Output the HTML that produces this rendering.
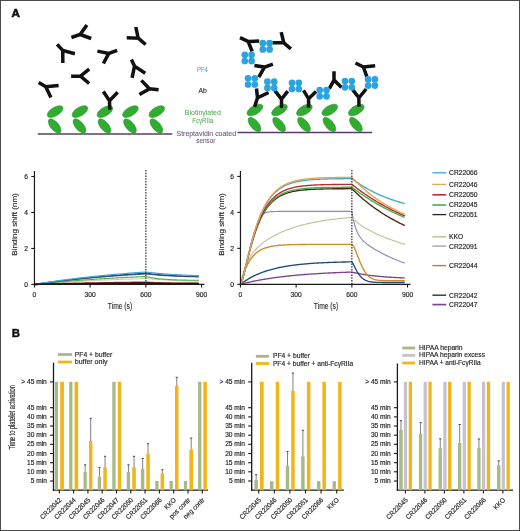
<!DOCTYPE html>
<html><head><meta charset="utf-8"><title>Figure</title>
<style>html,body{margin:0;padding:0;background:#fff;width:520px;height:531px;overflow:hidden}svg{display:block;will-change:transform}</style>
</head><body><svg width="520" height="531" viewBox="0 0 520 531" font-family="'Liberation Sans', sans-serif"><line x1="37.8" y1="134.0" x2="172.3" y2="134.0" stroke="#573d6b" stroke-width="1.5"/>
<line x1="237.5" y1="132.4" x2="372.1" y2="132.4" stroke="#573d6b" stroke-width="1.5"/>
<ellipse cx="55.1" cy="111.6" rx="8.8" ry="4.3" transform="rotate(-31 55.1 111.6)" fill="#30ad31" stroke="#2a8c2c" stroke-width="0.5"/>
<ellipse cx="54.7" cy="126.0" rx="8.7" ry="4.1" transform="rotate(50 54.7 126.0)" fill="#30ad31" stroke="#2a8c2c" stroke-width="0.5"/>
<ellipse cx="79.9" cy="111.6" rx="8.8" ry="4.3" transform="rotate(-31 79.9 111.6)" fill="#30ad31" stroke="#2a8c2c" stroke-width="0.5"/>
<ellipse cx="79.5" cy="126.0" rx="8.7" ry="4.1" transform="rotate(50 79.5 126.0)" fill="#30ad31" stroke="#2a8c2c" stroke-width="0.5"/>
<ellipse cx="104.9" cy="111.6" rx="8.8" ry="4.3" transform="rotate(-31 104.9 111.6)" fill="#30ad31" stroke="#2a8c2c" stroke-width="0.5"/>
<ellipse cx="104.5" cy="126.0" rx="8.7" ry="4.1" transform="rotate(50 104.5 126.0)" fill="#30ad31" stroke="#2a8c2c" stroke-width="0.5"/>
<ellipse cx="130.4" cy="111.6" rx="8.8" ry="4.3" transform="rotate(-31 130.4 111.6)" fill="#30ad31" stroke="#2a8c2c" stroke-width="0.5"/>
<ellipse cx="130.0" cy="126.0" rx="8.7" ry="4.1" transform="rotate(50 130.0 126.0)" fill="#30ad31" stroke="#2a8c2c" stroke-width="0.5"/>
<ellipse cx="156.8" cy="111.6" rx="8.8" ry="4.3" transform="rotate(-31 156.8 111.6)" fill="#30ad31" stroke="#2a8c2c" stroke-width="0.5"/>
<ellipse cx="156.4" cy="126.0" rx="8.7" ry="4.1" transform="rotate(50 156.4 126.0)" fill="#30ad31" stroke="#2a8c2c" stroke-width="0.5"/>
<ellipse cx="254.9" cy="110.0" rx="8.8" ry="4.3" transform="rotate(-31 254.9 110.0)" fill="#30ad31" stroke="#2a8c2c" stroke-width="0.5"/>
<ellipse cx="254.5" cy="124.5" rx="8.7" ry="4.1" transform="rotate(50 254.5 124.5)" fill="#30ad31" stroke="#2a8c2c" stroke-width="0.5"/>
<ellipse cx="279.5" cy="110.0" rx="8.8" ry="4.3" transform="rotate(-31 279.5 110.0)" fill="#30ad31" stroke="#2a8c2c" stroke-width="0.5"/>
<ellipse cx="279.1" cy="124.5" rx="8.7" ry="4.1" transform="rotate(50 279.1 124.5)" fill="#30ad31" stroke="#2a8c2c" stroke-width="0.5"/>
<ellipse cx="304.4" cy="110.0" rx="8.8" ry="4.3" transform="rotate(-31 304.4 110.0)" fill="#30ad31" stroke="#2a8c2c" stroke-width="0.5"/>
<ellipse cx="304.0" cy="124.5" rx="8.7" ry="4.1" transform="rotate(50 304.0 124.5)" fill="#30ad31" stroke="#2a8c2c" stroke-width="0.5"/>
<ellipse cx="329.8" cy="110.0" rx="8.8" ry="4.3" transform="rotate(-31 329.8 110.0)" fill="#30ad31" stroke="#2a8c2c" stroke-width="0.5"/>
<ellipse cx="329.4" cy="124.5" rx="8.7" ry="4.1" transform="rotate(50 329.4 124.5)" fill="#30ad31" stroke="#2a8c2c" stroke-width="0.5"/>
<ellipse cx="356.3" cy="110.0" rx="8.8" ry="4.3" transform="rotate(-31 356.3 110.0)" fill="#30ad31" stroke="#2a8c2c" stroke-width="0.5"/>
<ellipse cx="355.9" cy="124.5" rx="8.7" ry="4.1" transform="rotate(50 355.9 124.5)" fill="#30ad31" stroke="#2a8c2c" stroke-width="0.5"/>
<path d="M86.9,25 L80.1,34.5 L71.4,37.5 M80.1,34.5 L91.2,38.5" stroke="#111" stroke-width="3.5" fill="none" stroke-linecap="butt" stroke-linejoin="miter"/>
<path d="M135.8,27 L138.2,38.2 L126.7,37.8 M138.2,38.2 L145.6,44.5" stroke="#111" stroke-width="3.5" fill="none" stroke-linecap="butt" stroke-linejoin="miter"/>
<path d="M57.1,44.4 L62.8,50.4 L74.9,53.8 M62.8,50.4 L62.8,62.9" stroke="#111" stroke-width="3.5" fill="none" stroke-linecap="butt" stroke-linejoin="miter"/>
<path d="M97.4,51.1 L108.8,53.4 L117.2,50.4 M108.8,53.4 L103.4,63.5" stroke="#111" stroke-width="3.5" fill="none" stroke-linecap="butt" stroke-linejoin="miter"/>
<path d="M71.1,76.3 L80.5,76.1 L89.2,69.1 M80.5,76.1 L89.2,83.5" stroke="#111" stroke-width="3.5" fill="none" stroke-linecap="butt" stroke-linejoin="miter"/>
<path d="M131.4,59.4 L134.5,66.1 L145.2,73.2 M134.5,66.1 L132.1,77.9" stroke="#111" stroke-width="3.5" fill="none" stroke-linecap="butt" stroke-linejoin="miter"/>
<path d="M38.7,82.4 L45.8,86.8 L58.6,85.4 M45.8,86.8 L50.9,97.5" stroke="#111" stroke-width="3.5" fill="none" stroke-linecap="butt" stroke-linejoin="miter"/>
<path d="M141.4,80.4 L149.5,88.8 L139.4,94.5 M149.5,88.8 L158.6,89.8" stroke="#111" stroke-width="3.5" fill="none" stroke-linecap="butt" stroke-linejoin="miter"/>
<path d="M103.3,91.5 L109.5,100.7 L117.7,92.3 M109.5,100.7 L109.8,109.8" stroke="#111" stroke-width="3.5" fill="none" stroke-linecap="butt" stroke-linejoin="miter"/>
<path d="M240,37.7 L248.1,41.4 L259.2,41.1 M248.1,41.4 L252.2,51.5" stroke="#111" stroke-width="3.5" fill="none" stroke-linecap="butt" stroke-linejoin="miter"/>
<path d="M281.2,32.1 L283.8,42.8 L272.4,42.8 M283.8,42.8 L290.9,48.9" stroke="#111" stroke-width="3.5" fill="none" stroke-linecap="butt" stroke-linejoin="miter"/>
<path d="M254.4,65.4 L264.5,67.1 L272.9,64.1 M264.5,67.1 L258.8,77.2" stroke="#111" stroke-width="3.5" fill="none" stroke-linecap="butt" stroke-linejoin="miter"/>
<path d="M334,71.3 L334,80 L329.4,88.6 M334,80 L341.5,87.5" stroke="#111" stroke-width="3.5" fill="none" stroke-linecap="butt" stroke-linejoin="miter"/>
<path d="M355.5,63 L363.4,67 L375.2,65.8 M363.4,67 L366.8,76.6" stroke="#111" stroke-width="3.5" fill="none" stroke-linecap="butt" stroke-linejoin="miter"/>
<path d="M256.5,88.5 L257.5,97.8 L268.6,92.5 M257.5,97.8 L254.6,106.9" stroke="#111" stroke-width="3.5" fill="none" stroke-linecap="butt" stroke-linejoin="miter"/>
<path d="M274.8,90.6 L281.5,99.2 L287.8,91.1 M281.5,99.2 L281.5,107.9" stroke="#111" stroke-width="3.5" fill="none" stroke-linecap="butt" stroke-linejoin="miter"/>
<path d="M303.5,90.4 L308.6,98.8 L316.1,91.5 M308.6,98.8 L308.6,107.7" stroke="#111" stroke-width="3.5" fill="none" stroke-linecap="butt" stroke-linejoin="miter"/>
<path d="M352.6,89.6 L358.9,97.8 L366.2,89 M358.9,97.8 L358.9,106.8" stroke="#111" stroke-width="3.5" fill="none" stroke-linecap="butt" stroke-linejoin="miter"/>
<circle cx="262.80" cy="43.20" r="3.35" fill="#2ba3de"/>
<circle cx="262.80" cy="49.40" r="3.35" fill="#2ba3de"/>
<circle cx="269.60" cy="43.20" r="3.35" fill="#2ba3de"/>
<circle cx="269.60" cy="49.40" r="3.35" fill="#2ba3de"/>
<circle cx="244.80" cy="54.80" r="3.35" fill="#2ba3de"/>
<circle cx="244.80" cy="61.00" r="3.35" fill="#2ba3de"/>
<circle cx="251.60" cy="54.80" r="3.35" fill="#2ba3de"/>
<circle cx="251.60" cy="61.00" r="3.35" fill="#2ba3de"/>
<circle cx="248.00" cy="78.30" r="3.35" fill="#2ba3de"/>
<circle cx="248.00" cy="84.50" r="3.35" fill="#2ba3de"/>
<circle cx="254.80" cy="78.30" r="3.35" fill="#2ba3de"/>
<circle cx="254.80" cy="84.50" r="3.35" fill="#2ba3de"/>
<circle cx="267.40" cy="81.70" r="3.35" fill="#2ba3de"/>
<circle cx="267.40" cy="87.90" r="3.35" fill="#2ba3de"/>
<circle cx="274.20" cy="81.70" r="3.35" fill="#2ba3de"/>
<circle cx="274.20" cy="87.90" r="3.35" fill="#2ba3de"/>
<circle cx="292.00" cy="82.80" r="3.35" fill="#2ba3de"/>
<circle cx="292.00" cy="89.00" r="3.35" fill="#2ba3de"/>
<circle cx="298.80" cy="82.80" r="3.35" fill="#2ba3de"/>
<circle cx="298.80" cy="89.00" r="3.35" fill="#2ba3de"/>
<circle cx="319.70" cy="90.10" r="3.35" fill="#2ba3de"/>
<circle cx="319.70" cy="96.30" r="3.35" fill="#2ba3de"/>
<circle cx="326.50" cy="90.10" r="3.35" fill="#2ba3de"/>
<circle cx="326.50" cy="96.30" r="3.35" fill="#2ba3de"/>
<circle cx="345.00" cy="81.10" r="3.35" fill="#2ba3de"/>
<circle cx="345.00" cy="87.30" r="3.35" fill="#2ba3de"/>
<circle cx="351.80" cy="81.10" r="3.35" fill="#2ba3de"/>
<circle cx="351.80" cy="87.30" r="3.35" fill="#2ba3de"/>
<circle cx="368.10" cy="79.40" r="3.35" fill="#2ba3de"/>
<circle cx="368.10" cy="85.60" r="3.35" fill="#2ba3de"/>
<circle cx="374.90" cy="79.40" r="3.35" fill="#2ba3de"/>
<circle cx="374.90" cy="85.60" r="3.35" fill="#2ba3de"/>
<text x="11.5" y="16.9" font-size="11.6" fill="#111" text-anchor="start" font-weight="bold" stroke="#111" stroke-width="0.6">A</text>
<text x="11.8" y="337.2" font-size="11.4" fill="#111" text-anchor="start" font-weight="bold" stroke="#111" stroke-width="0.45">B</text>
<text x="196.9" y="72.0" font-size="6.9" fill="#3ea6dc" text-anchor="start" font-weight="normal" textLength="11.0" lengthAdjust="spacingAndGlyphs" stroke="#3ea6dc" stroke-width="0.05">PF4</text>
<text x="198.5" y="92.8" font-size="7.0" fill="#222" text-anchor="start" font-weight="normal" textLength="8.4" lengthAdjust="spacingAndGlyphs" stroke="#222" stroke-width="0.1">Ab</text>
<text x="184.8" y="114.6" font-size="7.0" fill="#52a852" text-anchor="start" font-weight="normal" textLength="36.1" lengthAdjust="spacingAndGlyphs" stroke="#52a852" stroke-width="0.05">Biotinylated</text>
<text x="192.2" y="122.7" font-size="7.0" fill="#52a852" text-anchor="start" font-weight="normal" textLength="21.1" lengthAdjust="spacingAndGlyphs" stroke="#52a852" stroke-width="0.05">Fc&#947;RIIa</text>
<text x="176.5" y="135.7" font-size="7.1" fill="#6c4c7c" text-anchor="start" font-weight="normal" textLength="59.5" lengthAdjust="spacingAndGlyphs" stroke="#6c4c7c" stroke-width="0.05">Streptavidin coated</text>
<text x="196.2" y="143.3" font-size="7.1" fill="#6c4c7c" text-anchor="start" font-weight="normal" textLength="19.3" lengthAdjust="spacingAndGlyphs" stroke="#6c4c7c" stroke-width="0.05">sensor</text>
<path d="M34.45,284.40 L35.38,284.39 L36.31,284.37 L37.24,284.36 L38.16,284.35 L39.09,284.33 L40.02,284.32 L40.95,284.31 L41.88,284.29 L42.81,284.28 L43.73,284.27 L44.66,284.26 L45.59,284.24 L46.52,284.23 L47.45,284.22 L48.38,284.21 L49.30,284.19 L50.23,284.18 L51.16,284.17 L52.09,284.16 L53.02,284.15 L53.95,284.14 L54.87,284.12 L55.80,284.11 L56.73,284.10 L57.66,284.09 L58.59,284.08 L59.52,284.07 L60.44,284.06 L61.37,284.04 L62.30,284.03 L63.23,284.02 L64.16,284.01 L65.09,284.00 L66.01,283.99 L66.94,283.98 L67.87,283.97 L68.80,283.96 L69.73,283.95 L70.66,283.94 L71.58,283.93 L72.51,283.92 L73.44,283.91 L74.37,283.90 L75.30,283.89 L76.23,283.88 L77.15,283.87 L78.08,283.86 L79.01,283.85 L79.94,283.84 L80.87,283.83 L81.80,283.82 L82.72,283.81 L83.65,283.80 L84.58,283.79 L85.51,283.79 L86.44,283.78 L87.37,283.77 L88.29,283.76 L89.22,283.75 L90.15,283.74 L91.08,283.73 L92.01,283.72 L92.94,283.72 L93.86,283.71 L94.79,283.70 L95.72,283.69 L96.65,283.68 L97.58,283.67 L98.51,283.67 L99.43,283.66 L100.36,283.65 L101.29,283.64 L102.22,283.63 L103.15,283.63 L104.08,283.62 L105.00,283.61 L105.93,283.60 L106.86,283.59 L107.79,283.59 L108.72,283.58 L109.65,283.57 L110.57,283.56 L111.50,283.56 L112.43,283.55 L113.36,283.54 L114.29,283.54 L115.22,283.53 L116.14,283.52 L117.07,283.51 L118.00,283.51 L118.93,283.50 L119.86,283.49 L120.79,283.49 L121.71,283.48 L122.64,283.47 L123.57,283.47 L124.50,283.46 L125.43,283.45 L126.36,283.45 L127.29,283.44 L128.21,283.43 L129.14,283.43 L130.07,283.42 L131.00,283.42 L131.93,283.41 L132.86,283.40 L133.78,283.40 L134.71,283.39 L135.64,283.38 L136.57,283.38 L137.50,283.37 L138.43,283.37 L139.35,283.36 L140.28,283.36 L141.21,283.35 L142.14,283.34 L143.07,283.34 L144.00,283.33 L144.92,283.33 L145.85,283.32 L146.78,283.35 L147.71,283.37 L148.64,283.40 L149.57,283.42 L150.49,283.44 L151.42,283.46 L152.35,283.48 L153.28,283.50 L154.21,283.52 L155.14,283.53 L156.06,283.55 L156.99,283.56 L157.92,283.58 L158.85,283.59 L159.78,283.61 L160.71,283.62 L161.63,283.63 L162.56,283.64 L163.49,283.65 L164.42,283.66 L165.35,283.67 L166.28,283.68 L167.20,283.69 L168.13,283.70 L169.06,283.71 L169.99,283.71 L170.92,283.72 L171.85,283.73 L172.77,283.73 L173.70,283.74 L174.63,283.75 L175.56,283.75 L176.49,283.76 L177.42,283.76 L178.34,283.77 L179.27,283.77 L180.20,283.78 L181.13,283.78 L182.06,283.78 L182.99,283.79 L183.91,283.79 L184.84,283.79 L185.77,283.80 L186.70,283.80 L187.63,283.80 L188.56,283.81 L189.48,283.81 L190.41,283.81 L191.34,283.81 L192.27,283.82 L193.20,283.82 L194.13,283.82 L195.05,283.82 L195.98,283.82 L196.91,283.83 L197.84,283.83 L198.77,283.83" stroke="#d08a2a" stroke-width="1.2" fill="none" stroke-linejoin="round"/>
<path d="M34.45,284.40 L35.38,284.33 L36.31,284.25 L37.24,284.18 L38.16,284.10 L39.09,284.03 L40.02,283.96 L40.95,283.89 L41.88,283.82 L42.81,283.75 L43.73,283.68 L44.66,283.61 L45.59,283.54 L46.52,283.47 L47.45,283.40 L48.38,283.34 L49.30,283.27 L50.23,283.20 L51.16,283.14 L52.09,283.07 L53.02,283.01 L53.95,282.94 L54.87,282.88 L55.80,282.82 L56.73,282.75 L57.66,282.69 L58.59,282.63 L59.52,282.57 L60.44,282.51 L61.37,282.45 L62.30,282.39 L63.23,282.33 L64.16,282.27 L65.09,282.21 L66.01,282.15 L66.94,282.09 L67.87,282.03 L68.80,281.98 L69.73,281.92 L70.66,281.86 L71.58,281.81 L72.51,281.75 L73.44,281.70 L74.37,281.64 L75.30,281.59 L76.23,281.54 L77.15,281.48 L78.08,281.43 L79.01,281.38 L79.94,281.33 L80.87,281.27 L81.80,281.22 L82.72,281.17 L83.65,281.12 L84.58,281.07 L85.51,281.02 L86.44,280.97 L87.37,280.92 L88.29,280.87 L89.22,280.82 L90.15,280.78 L91.08,280.73 L92.01,280.68 L92.94,280.63 L93.86,280.59 L94.79,280.54 L95.72,280.50 L96.65,280.45 L97.58,280.41 L98.51,280.36 L99.43,280.32 L100.36,280.27 L101.29,280.23 L102.22,280.18 L103.15,280.14 L104.08,280.10 L105.00,280.06 L105.93,280.01 L106.86,279.97 L107.79,279.93 L108.72,279.89 L109.65,279.85 L110.57,279.81 L111.50,279.77 L112.43,279.73 L113.36,279.69 L114.29,279.65 L115.22,279.61 L116.14,279.57 L117.07,279.53 L118.00,279.49 L118.93,279.45 L119.86,279.42 L120.79,279.38 L121.71,279.34 L122.64,279.30 L123.57,279.27 L124.50,279.23 L125.43,279.20 L126.36,279.16 L127.29,279.12 L128.21,279.09 L129.14,279.05 L130.07,279.02 L131.00,278.98 L131.93,278.95 L132.86,278.92 L133.78,278.88 L134.71,278.85 L135.64,278.82 L136.57,278.78 L137.50,278.75 L138.43,278.72 L139.35,278.69 L140.28,278.65 L141.21,278.62 L142.14,278.59 L143.07,278.56 L144.00,278.53 L144.92,278.50 L145.85,278.47 L146.78,278.56 L147.71,278.66 L148.64,278.75 L149.57,278.83 L150.49,278.92 L151.42,279.00 L152.35,279.08 L153.28,279.16 L154.21,279.23 L155.14,279.31 L156.06,279.38 L156.99,279.45 L157.92,279.51 L158.85,279.58 L159.78,279.64 L160.71,279.70 L161.63,279.76 L162.56,279.82 L163.49,279.87 L164.42,279.93 L165.35,279.98 L166.28,280.03 L167.20,280.08 L168.13,280.13 L169.06,280.17 L169.99,280.22 L170.92,280.26 L171.85,280.31 L172.77,280.35 L173.70,280.39 L174.63,280.43 L175.56,280.46 L176.49,280.50 L177.42,280.54 L178.34,280.57 L179.27,280.60 L180.20,280.64 L181.13,280.67 L182.06,280.70 L182.99,280.73 L183.91,280.76 L184.84,280.78 L185.77,280.81 L186.70,280.84 L187.63,280.86 L188.56,280.89 L189.48,280.91 L190.41,280.94 L191.34,280.96 L192.27,280.98 L193.20,281.00 L194.13,281.02 L195.05,281.04 L195.98,281.06 L196.91,281.08 L197.84,281.10 L198.77,281.12" stroke="#bcc49a" stroke-width="1.0" fill="none" stroke-linejoin="round"/>
<path d="M34.45,284.40 L35.38,284.30 L36.31,284.20 L37.24,284.10 L38.16,284.01 L39.09,283.91 L40.02,283.81 L40.95,283.72 L41.88,283.62 L42.81,283.53 L43.73,283.44 L44.66,283.34 L45.59,283.25 L46.52,283.16 L47.45,283.07 L48.38,282.98 L49.30,282.89 L50.23,282.80 L51.16,282.72 L52.09,282.63 L53.02,282.54 L53.95,282.46 L54.87,282.37 L55.80,282.29 L56.73,282.20 L57.66,282.12 L58.59,282.04 L59.52,281.96 L60.44,281.87 L61.37,281.79 L62.30,281.71 L63.23,281.63 L64.16,281.56 L65.09,281.48 L66.01,281.40 L66.94,281.32 L67.87,281.25 L68.80,281.17 L69.73,281.09 L70.66,281.02 L71.58,280.94 L72.51,280.87 L73.44,280.80 L74.37,280.73 L75.30,280.65 L76.23,280.58 L77.15,280.51 L78.08,280.44 L79.01,280.37 L79.94,280.30 L80.87,280.23 L81.80,280.16 L82.72,280.09 L83.65,280.03 L84.58,279.96 L85.51,279.89 L86.44,279.83 L87.37,279.76 L88.29,279.70 L89.22,279.63 L90.15,279.57 L91.08,279.51 L92.01,279.44 L92.94,279.38 L93.86,279.32 L94.79,279.26 L95.72,279.20 L96.65,279.13 L97.58,279.07 L98.51,279.01 L99.43,278.95 L100.36,278.90 L101.29,278.84 L102.22,278.78 L103.15,278.72 L104.08,278.66 L105.00,278.61 L105.93,278.55 L106.86,278.50 L107.79,278.44 L108.72,278.39 L109.65,278.33 L110.57,278.28 L111.50,278.22 L112.43,278.17 L113.36,278.12 L114.29,278.06 L115.22,278.01 L116.14,277.96 L117.07,277.91 L118.00,277.86 L118.93,277.81 L119.86,277.76 L120.79,277.71 L121.71,277.66 L122.64,277.61 L123.57,277.56 L124.50,277.51 L125.43,277.46 L126.36,277.41 L127.29,277.37 L128.21,277.32 L129.14,277.27 L130.07,277.23 L131.00,277.18 L131.93,277.13 L132.86,277.09 L133.78,277.04 L134.71,277.00 L135.64,276.95 L136.57,276.91 L137.50,276.87 L138.43,276.82 L139.35,276.78 L140.28,276.74 L141.21,276.70 L142.14,276.65 L143.07,276.61 L144.00,276.57 L144.92,276.53 L145.85,276.49 L146.78,276.72 L147.71,276.94 L148.64,277.14 L149.57,277.33 L150.49,277.51 L151.42,277.68 L152.35,277.85 L153.28,278.00 L154.21,278.14 L155.14,278.27 L156.06,278.40 L156.99,278.52 L157.92,278.63 L158.85,278.74 L159.78,278.84 L160.71,278.93 L161.63,279.02 L162.56,279.10 L163.49,279.18 L164.42,279.25 L165.35,279.32 L166.28,279.39 L167.20,279.45 L168.13,279.51 L169.06,279.56 L169.99,279.61 L170.92,279.66 L171.85,279.71 L172.77,279.75 L173.70,279.79 L174.63,279.83 L175.56,279.86 L176.49,279.90 L177.42,279.93 L178.34,279.96 L179.27,279.99 L180.20,280.01 L181.13,280.04 L182.06,280.06 L182.99,280.09 L183.91,280.11 L184.84,280.13 L185.77,280.14 L186.70,280.16 L187.63,280.18 L188.56,280.19 L189.48,280.21 L190.41,280.22 L191.34,280.24 L192.27,280.25 L193.20,280.26 L194.13,280.27 L195.05,280.28 L195.98,280.29 L196.91,280.30 L197.84,280.31 L198.77,280.32" stroke="#44b24a" stroke-width="1.1" fill="none" stroke-linejoin="round"/>
<path d="M34.45,284.40 L35.38,284.27 L36.31,284.14 L37.24,284.01 L38.16,283.88 L39.09,283.75 L40.02,283.63 L40.95,283.50 L41.88,283.38 L42.81,283.25 L43.73,283.13 L44.66,283.01 L45.59,282.89 L46.52,282.77 L47.45,282.65 L48.38,282.53 L49.30,282.41 L50.23,282.30 L51.16,282.18 L52.09,282.07 L53.02,281.95 L53.95,281.84 L54.87,281.73 L55.80,281.62 L56.73,281.51 L57.66,281.40 L58.59,281.29 L59.52,281.18 L60.44,281.07 L61.37,280.96 L62.30,280.86 L63.23,280.75 L64.16,280.65 L65.09,280.55 L66.01,280.44 L66.94,280.34 L67.87,280.24 L68.80,280.14 L69.73,280.04 L70.66,279.94 L71.58,279.85 L72.51,279.75 L73.44,279.65 L74.37,279.56 L75.30,279.46 L76.23,279.37 L77.15,279.27 L78.08,279.18 L79.01,279.09 L79.94,279.00 L80.87,278.90 L81.80,278.81 L82.72,278.72 L83.65,278.64 L84.58,278.55 L85.51,278.46 L86.44,278.37 L87.37,278.29 L88.29,278.20 L89.22,278.12 L90.15,278.03 L91.08,277.95 L92.01,277.87 L92.94,277.78 L93.86,277.70 L94.79,277.62 L95.72,277.54 L96.65,277.46 L97.58,277.38 L98.51,277.30 L99.43,277.22 L100.36,277.14 L101.29,277.07 L102.22,276.99 L103.15,276.92 L104.08,276.84 L105.00,276.76 L105.93,276.69 L106.86,276.62 L107.79,276.54 L108.72,276.47 L109.65,276.40 L110.57,276.33 L111.50,276.26 L112.43,276.19 L113.36,276.12 L114.29,276.05 L115.22,275.98 L116.14,275.91 L117.07,275.84 L118.00,275.77 L118.93,275.71 L119.86,275.64 L120.79,275.58 L121.71,275.51 L122.64,275.45 L123.57,275.38 L124.50,275.32 L125.43,275.25 L126.36,275.19 L127.29,275.13 L128.21,275.07 L129.14,275.00 L130.07,274.94 L131.00,274.88 L131.93,274.82 L132.86,274.76 L133.78,274.70 L134.71,274.64 L135.64,274.59 L136.57,274.53 L137.50,274.47 L138.43,274.41 L139.35,274.36 L140.28,274.30 L141.21,274.24 L142.14,274.19 L143.07,274.13 L144.00,274.08 L144.92,274.03 L145.85,273.97 L146.78,274.08 L147.71,274.18 L148.64,274.28 L149.57,274.38 L150.49,274.47 L151.42,274.56 L152.35,274.65 L153.28,274.74 L154.21,274.82 L155.14,274.90 L156.06,274.98 L156.99,275.06 L157.92,275.13 L158.85,275.20 L159.78,275.27 L160.71,275.34 L161.63,275.41 L162.56,275.47 L163.49,275.53 L164.42,275.59 L165.35,275.65 L166.28,275.71 L167.20,275.76 L168.13,275.82 L169.06,275.87 L169.99,275.92 L170.92,275.97 L171.85,276.02 L172.77,276.06 L173.70,276.11 L174.63,276.15 L175.56,276.19 L176.49,276.23 L177.42,276.27 L178.34,276.31 L179.27,276.35 L180.20,276.38 L181.13,276.42 L182.06,276.45 L182.99,276.48 L183.91,276.52 L184.84,276.55 L185.77,276.58 L186.70,276.61 L187.63,276.64 L188.56,276.66 L189.48,276.69 L190.41,276.72 L191.34,276.74 L192.27,276.77 L193.20,276.79 L194.13,276.81 L195.05,276.83 L195.98,276.86 L196.91,276.88 L197.84,276.90 L198.77,276.92" stroke="#7a448c" stroke-width="1.1" fill="none" stroke-linejoin="round"/>
<path d="M34.45,284.40 L35.38,284.26 L36.31,284.12 L37.24,283.98 L38.16,283.84 L39.09,283.71 L40.02,283.57 L40.95,283.44 L41.88,283.31 L42.81,283.17 L43.73,283.04 L44.66,282.91 L45.59,282.78 L46.52,282.65 L47.45,282.53 L48.38,282.40 L49.30,282.28 L50.23,282.15 L51.16,282.03 L52.09,281.91 L53.02,281.78 L53.95,281.66 L54.87,281.54 L55.80,281.42 L56.73,281.31 L57.66,281.19 L58.59,281.07 L59.52,280.96 L60.44,280.84 L61.37,280.73 L62.30,280.62 L63.23,280.50 L64.16,280.39 L65.09,280.28 L66.01,280.17 L66.94,280.06 L67.87,279.96 L68.80,279.85 L69.73,279.74 L70.66,279.64 L71.58,279.53 L72.51,279.43 L73.44,279.32 L74.37,279.22 L75.30,279.12 L76.23,279.02 L77.15,278.92 L78.08,278.82 L79.01,278.72 L79.94,278.62 L80.87,278.53 L81.80,278.43 L82.72,278.33 L83.65,278.24 L84.58,278.14 L85.51,278.05 L86.44,277.96 L87.37,277.87 L88.29,277.77 L89.22,277.68 L90.15,277.59 L91.08,277.50 L92.01,277.41 L92.94,277.33 L93.86,277.24 L94.79,277.15 L95.72,277.07 L96.65,276.98 L97.58,276.90 L98.51,276.81 L99.43,276.73 L100.36,276.64 L101.29,276.56 L102.22,276.48 L103.15,276.40 L104.08,276.32 L105.00,276.24 L105.93,276.16 L106.86,276.08 L107.79,276.00 L108.72,275.92 L109.65,275.85 L110.57,275.77 L111.50,275.70 L112.43,275.62 L113.36,275.54 L114.29,275.47 L115.22,275.40 L116.14,275.32 L117.07,275.25 L118.00,275.18 L118.93,275.11 L119.86,275.04 L120.79,274.97 L121.71,274.90 L122.64,274.83 L123.57,274.76 L124.50,274.69 L125.43,274.62 L126.36,274.56 L127.29,274.49 L128.21,274.42 L129.14,274.36 L130.07,274.29 L131.00,274.23 L131.93,274.16 L132.86,274.10 L133.78,274.03 L134.71,273.97 L135.64,273.91 L136.57,273.85 L137.50,273.79 L138.43,273.72 L139.35,273.66 L140.28,273.60 L141.21,273.54 L142.14,273.48 L143.07,273.43 L144.00,273.37 L144.92,273.31 L145.85,273.25 L146.78,273.37 L147.71,273.48 L148.64,273.59 L149.57,273.70 L150.49,273.80 L151.42,273.90 L152.35,274.00 L153.28,274.10 L154.21,274.19 L155.14,274.28 L156.06,274.36 L156.99,274.45 L157.92,274.53 L158.85,274.61 L159.78,274.69 L160.71,274.76 L161.63,274.83 L162.56,274.90 L163.49,274.97 L164.42,275.04 L165.35,275.10 L166.28,275.16 L167.20,275.22 L168.13,275.28 L169.06,275.34 L169.99,275.39 L170.92,275.45 L171.85,275.50 L172.77,275.55 L173.70,275.60 L174.63,275.65 L175.56,275.69 L176.49,275.74 L177.42,275.78 L178.34,275.82 L179.27,275.86 L180.20,275.90 L181.13,275.94 L182.06,275.98 L182.99,276.02 L183.91,276.05 L184.84,276.09 L185.77,276.12 L186.70,276.15 L187.63,276.18 L188.56,276.21 L189.48,276.24 L190.41,276.27 L191.34,276.30 L192.27,276.33 L193.20,276.35 L194.13,276.38 L195.05,276.40 L195.98,276.43 L196.91,276.45 L197.84,276.47 L198.77,276.49" stroke="#1e4a7c" stroke-width="1.2" fill="none" stroke-linejoin="round"/>
<path d="M34.45,284.40 L35.38,284.24 L36.31,284.09 L37.24,283.93 L38.16,283.78 L39.09,283.63 L40.02,283.48 L40.95,283.33 L41.88,283.18 L42.81,283.04 L43.73,282.89 L44.66,282.74 L45.59,282.60 L46.52,282.46 L47.45,282.32 L48.38,282.18 L49.30,282.04 L50.23,281.90 L51.16,281.76 L52.09,281.62 L53.02,281.49 L53.95,281.35 L54.87,281.22 L55.80,281.09 L56.73,280.96 L57.66,280.83 L58.59,280.70 L59.52,280.57 L60.44,280.44 L61.37,280.31 L62.30,280.19 L63.23,280.06 L64.16,279.94 L65.09,279.82 L66.01,279.69 L66.94,279.57 L67.87,279.45 L68.80,279.33 L69.73,279.22 L70.66,279.10 L71.58,278.98 L72.51,278.87 L73.44,278.75 L74.37,278.64 L75.30,278.52 L76.23,278.41 L77.15,278.30 L78.08,278.19 L79.01,278.08 L79.94,277.97 L80.87,277.86 L81.80,277.76 L82.72,277.65 L83.65,277.54 L84.58,277.44 L85.51,277.33 L86.44,277.23 L87.37,277.13 L88.29,277.03 L89.22,276.92 L90.15,276.82 L91.08,276.72 L92.01,276.63 L92.94,276.53 L93.86,276.43 L94.79,276.33 L95.72,276.24 L96.65,276.14 L97.58,276.05 L98.51,275.95 L99.43,275.86 L100.36,275.77 L101.29,275.68 L102.22,275.59 L103.15,275.50 L104.08,275.41 L105.00,275.32 L105.93,275.23 L106.86,275.14 L107.79,275.05 L108.72,274.97 L109.65,274.88 L110.57,274.80 L111.50,274.71 L112.43,274.63 L113.36,274.55 L114.29,274.46 L115.22,274.38 L116.14,274.30 L117.07,274.22 L118.00,274.14 L118.93,274.06 L119.86,273.98 L120.79,273.90 L121.71,273.82 L122.64,273.75 L123.57,273.67 L124.50,273.59 L125.43,273.52 L126.36,273.44 L127.29,273.37 L128.21,273.30 L129.14,273.22 L130.07,273.15 L131.00,273.08 L131.93,273.01 L132.86,272.93 L133.78,272.86 L134.71,272.79 L135.64,272.72 L136.57,272.66 L137.50,272.59 L138.43,272.52 L139.35,272.45 L140.28,272.39 L141.21,272.32 L142.14,272.25 L143.07,272.19 L144.00,272.12 L144.92,272.06 L145.85,271.99 L146.78,272.11 L147.71,272.23 L148.64,272.34 L149.57,272.46 L150.49,272.56 L151.42,272.67 L152.35,272.77 L153.28,272.87 L154.21,272.97 L155.14,273.07 L156.06,273.16 L156.99,273.25 L157.92,273.34 L158.85,273.43 L159.78,273.51 L160.71,273.59 L161.63,273.67 L162.56,273.75 L163.49,273.83 L164.42,273.90 L165.35,273.98 L166.28,274.05 L167.20,274.12 L168.13,274.18 L169.06,274.25 L169.99,274.31 L170.92,274.38 L171.85,274.44 L172.77,274.50 L173.70,274.56 L174.63,274.61 L175.56,274.67 L176.49,274.72 L177.42,274.77 L178.34,274.82 L179.27,274.87 L180.20,274.92 L181.13,274.97 L182.06,275.02 L182.99,275.06 L183.91,275.11 L184.84,275.15 L185.77,275.19 L186.70,275.23 L187.63,275.27 L188.56,275.31 L189.48,275.35 L190.41,275.39 L191.34,275.42 L192.27,275.46 L193.20,275.49 L194.13,275.53 L195.05,275.56 L195.98,275.59 L196.91,275.62 L197.84,275.65 L198.77,275.68" stroke="#40a8d8" stroke-width="1.2" fill="none" stroke-linejoin="round"/>
<path d="M34.45,284.40 L35.38,284.37 L36.31,284.35 L37.24,284.32 L38.16,284.29 L39.09,284.27 L40.02,284.24 L40.95,284.21 L41.88,284.19 L42.81,284.16 L43.73,284.14 L44.66,284.11 L45.59,284.09 L46.52,284.06 L47.45,284.04 L48.38,284.01 L49.30,283.99 L50.23,283.96 L51.16,283.94 L52.09,283.92 L53.02,283.89 L53.95,283.87 L54.87,283.85 L55.80,283.82 L56.73,283.80 L57.66,283.78 L58.59,283.76 L59.52,283.73 L60.44,283.71 L61.37,283.69 L62.30,283.67 L63.23,283.65 L64.16,283.62 L65.09,283.60 L66.01,283.58 L66.94,283.56 L67.87,283.54 L68.80,283.52 L69.73,283.50 L70.66,283.48 L71.58,283.46 L72.51,283.44 L73.44,283.42 L74.37,283.40 L75.30,283.38 L76.23,283.36 L77.15,283.34 L78.08,283.32 L79.01,283.30 L79.94,283.28 L80.87,283.26 L81.80,283.24 L82.72,283.23 L83.65,283.21 L84.58,283.19 L85.51,283.17 L86.44,283.15 L87.37,283.14 L88.29,283.12 L89.22,283.10 L90.15,283.08 L91.08,283.07 L92.01,283.05 L92.94,283.03 L93.86,283.01 L94.79,283.00 L95.72,282.98 L96.65,282.96 L97.58,282.95 L98.51,282.93 L99.43,282.91 L100.36,282.90 L101.29,282.88 L102.22,282.87 L103.15,282.85 L104.08,282.84 L105.00,282.82 L105.93,282.80 L106.86,282.79 L107.79,282.77 L108.72,282.76 L109.65,282.74 L110.57,282.73 L111.50,282.72 L112.43,282.70 L113.36,282.69 L114.29,282.67 L115.22,282.66 L116.14,282.64 L117.07,282.63 L118.00,282.62 L118.93,282.60 L119.86,282.59 L120.79,282.57 L121.71,282.56 L122.64,282.55 L123.57,282.53 L124.50,282.52 L125.43,282.51 L126.36,282.49 L127.29,282.48 L128.21,282.47 L129.14,282.46 L130.07,282.44 L131.00,282.43 L131.93,282.42 L132.86,282.41 L133.78,282.39 L134.71,282.38 L135.64,282.37 L136.57,282.36 L137.50,282.35 L138.43,282.33 L139.35,282.32 L140.28,282.31 L141.21,282.30 L142.14,282.29 L143.07,282.28 L144.00,282.26 L144.92,282.25 L145.85,282.24 L146.78,282.30 L147.71,282.36 L148.64,282.42 L149.57,282.47 L150.49,282.52 L151.42,282.57 L152.35,282.61 L153.28,282.66 L154.21,282.70 L155.14,282.74 L156.06,282.77 L156.99,282.81 L157.92,282.84 L158.85,282.88 L159.78,282.91 L160.71,282.94 L161.63,282.96 L162.56,282.99 L163.49,283.01 L164.42,283.04 L165.35,283.06 L166.28,283.08 L167.20,283.10 L168.13,283.12 L169.06,283.14 L169.99,283.16 L170.92,283.17 L171.85,283.19 L172.77,283.21 L173.70,283.22 L174.63,283.23 L175.56,283.25 L176.49,283.26 L177.42,283.27 L178.34,283.28 L179.27,283.29 L180.20,283.30 L181.13,283.31 L182.06,283.32 L182.99,283.33 L183.91,283.34 L184.84,283.35 L185.77,283.35 L186.70,283.36 L187.63,283.37 L188.56,283.37 L189.48,283.38 L190.41,283.39 L191.34,283.39 L192.27,283.40 L193.20,283.40 L194.13,283.41 L195.05,283.41 L195.98,283.42 L196.91,283.42 L197.84,283.42 L198.77,283.43" stroke="#b42a30" stroke-width="1.6" fill="none" stroke-linejoin="round"/>
<path d="M34.45,284.40 L35.38,284.38 L36.31,284.37 L37.24,284.35 L38.16,284.33 L39.09,284.32 L40.02,284.30 L40.95,284.28 L41.88,284.27 L42.81,284.25 L43.73,284.24 L44.66,284.22 L45.59,284.20 L46.52,284.19 L47.45,284.17 L48.38,284.16 L49.30,284.14 L50.23,284.13 L51.16,284.11 L52.09,284.10 L53.02,284.08 L53.95,284.07 L54.87,284.05 L55.80,284.04 L56.73,284.03 L57.66,284.01 L58.59,284.00 L59.52,283.98 L60.44,283.97 L61.37,283.96 L62.30,283.94 L63.23,283.93 L64.16,283.92 L65.09,283.90 L66.01,283.89 L66.94,283.88 L67.87,283.86 L68.80,283.85 L69.73,283.84 L70.66,283.82 L71.58,283.81 L72.51,283.80 L73.44,283.79 L74.37,283.77 L75.30,283.76 L76.23,283.75 L77.15,283.74 L78.08,283.72 L79.01,283.71 L79.94,283.70 L80.87,283.69 L81.80,283.68 L82.72,283.67 L83.65,283.65 L84.58,283.64 L85.51,283.63 L86.44,283.62 L87.37,283.61 L88.29,283.60 L89.22,283.59 L90.15,283.58 L91.08,283.57 L92.01,283.55 L92.94,283.54 L93.86,283.53 L94.79,283.52 L95.72,283.51 L96.65,283.50 L97.58,283.49 L98.51,283.48 L99.43,283.47 L100.36,283.46 L101.29,283.45 L102.22,283.44 L103.15,283.43 L104.08,283.42 L105.00,283.41 L105.93,283.40 L106.86,283.39 L107.79,283.38 L108.72,283.37 L109.65,283.37 L110.57,283.36 L111.50,283.35 L112.43,283.34 L113.36,283.33 L114.29,283.32 L115.22,283.31 L116.14,283.30 L117.07,283.29 L118.00,283.28 L118.93,283.28 L119.86,283.27 L120.79,283.26 L121.71,283.25 L122.64,283.24 L123.57,283.23 L124.50,283.23 L125.43,283.22 L126.36,283.21 L127.29,283.20 L128.21,283.19 L129.14,283.19 L130.07,283.18 L131.00,283.17 L131.93,283.16 L132.86,283.15 L133.78,283.15 L134.71,283.14 L135.64,283.13 L136.57,283.12 L137.50,283.12 L138.43,283.11 L139.35,283.10 L140.28,283.09 L141.21,283.09 L142.14,283.08 L143.07,283.07 L144.00,283.07 L144.92,283.06 L145.85,283.05 L146.78,283.08 L147.71,283.11 L148.64,283.14 L149.57,283.17 L150.49,283.19 L151.42,283.21 L152.35,283.24 L153.28,283.26 L154.21,283.28 L155.14,283.30 L156.06,283.32 L156.99,283.34 L157.92,283.35 L158.85,283.37 L159.78,283.38 L160.71,283.40 L161.63,283.41 L162.56,283.42 L163.49,283.44 L164.42,283.45 L165.35,283.46 L166.28,283.47 L167.20,283.48 L168.13,283.49 L169.06,283.50 L169.99,283.51 L170.92,283.52 L171.85,283.53 L172.77,283.53 L173.70,283.54 L174.63,283.55 L175.56,283.55 L176.49,283.56 L177.42,283.57 L178.34,283.57 L179.27,283.58 L180.20,283.58 L181.13,283.59 L182.06,283.59 L182.99,283.60 L183.91,283.60 L184.84,283.60 L185.77,283.61 L186.70,283.61 L187.63,283.61 L188.56,283.62 L189.48,283.62 L190.41,283.62 L191.34,283.63 L192.27,283.63 L193.20,283.63 L194.13,283.63 L195.05,283.64 L195.98,283.64 L196.91,283.64 L197.84,283.64 L198.77,283.64" stroke="#2a1410" stroke-width="1.6" fill="none" stroke-linejoin="round"/>
<line x1="145.85" y1="170.1" x2="145.85" y2="284.4" stroke="#3a3a3a" stroke-width="1.3" stroke-dasharray="1.3,1.45"/>
<line x1="34.45" y1="171" x2="34.45" y2="285.0" stroke="#1a1a1a" stroke-width="1.2"/>
<line x1="33.85" y1="284.4" x2="204.45" y2="284.4" stroke="#1a1a1a" stroke-width="1.2"/>
<line x1="31.250000000000004" y1="284.40" x2="34.45" y2="284.40" stroke="#1a1a1a" stroke-width="1.1"/>
<text x="28.1" y="286.80" font-size="6.7" fill="#282828" text-anchor="end" font-weight="normal" stroke="#282828" stroke-width="0.18">0</text>
<line x1="31.250000000000004" y1="248.44" x2="34.45" y2="248.44" stroke="#1a1a1a" stroke-width="1.1"/>
<text x="28.1" y="250.84" font-size="6.7" fill="#282828" text-anchor="end" font-weight="normal" stroke="#282828" stroke-width="0.18">2</text>
<line x1="31.250000000000004" y1="212.48" x2="34.45" y2="212.48" stroke="#1a1a1a" stroke-width="1.1"/>
<text x="28.1" y="214.88" font-size="6.7" fill="#282828" text-anchor="end" font-weight="normal" stroke="#282828" stroke-width="0.18">4</text>
<line x1="31.250000000000004" y1="176.52" x2="34.45" y2="176.52" stroke="#1a1a1a" stroke-width="1.1"/>
<text x="28.1" y="178.92" font-size="6.7" fill="#282828" text-anchor="end" font-weight="normal" stroke="#282828" stroke-width="0.18">6</text>
<line x1="34.45" y1="284.4" x2="34.45" y2="287.59999999999997" stroke="#1a1a1a" stroke-width="1.1"/>
<text x="34.45" y="296.6" font-size="6.7" fill="#282828" text-anchor="middle" font-weight="normal" stroke="#282828" stroke-width="0.18">0</text>
<line x1="90.15" y1="284.4" x2="90.15" y2="287.59999999999997" stroke="#1a1a1a" stroke-width="1.1"/>
<text x="90.15" y="296.6" font-size="6.7" fill="#282828" text-anchor="middle" font-weight="normal" stroke="#282828" stroke-width="0.18">300</text>
<line x1="145.85" y1="284.4" x2="145.85" y2="287.59999999999997" stroke="#1a1a1a" stroke-width="1.1"/>
<text x="145.85" y="296.6" font-size="6.7" fill="#282828" text-anchor="middle" font-weight="normal" stroke="#282828" stroke-width="0.18">600</text>
<line x1="201.55" y1="284.4" x2="201.55" y2="287.59999999999997" stroke="#1a1a1a" stroke-width="1.1"/>
<text x="201.55" y="296.6" font-size="6.7" fill="#282828" text-anchor="middle" font-weight="normal" stroke="#282828" stroke-width="0.18">900</text>
<text x="120.0" y="308.8" font-size="8.4" fill="#282828" text-anchor="middle" font-weight="normal" textLength="24.4" lengthAdjust="spacingAndGlyphs" stroke="#282828" stroke-width="0.12">Time (s)</text>
<text transform="translate(17.3,224.5) rotate(-90)" font-size="7.0" fill="#282828" stroke="#282828" stroke-width="0.15" text-anchor="middle" textLength="62.5" lengthAdjust="spacingAndGlyphs">Binding shift (nm)</text>
<path d="M240.45,284.30 L241.38,284.06 L242.31,283.82 L243.24,283.59 L244.16,283.36 L245.09,283.13 L246.02,282.91 L246.95,282.69 L247.88,282.48 L248.81,282.27 L249.73,282.06 L250.66,281.86 L251.59,281.66 L252.52,281.47 L253.45,281.27 L254.38,281.08 L255.30,280.90 L256.23,280.71 L257.16,280.54 L258.09,280.36 L259.02,280.19 L259.95,280.02 L260.87,279.85 L261.80,279.68 L262.73,279.52 L263.66,279.36 L264.59,279.21 L265.52,279.05 L266.44,278.90 L267.37,278.75 L268.30,278.61 L269.23,278.47 L270.16,278.33 L271.09,278.19 L272.01,278.05 L272.94,277.92 L273.87,277.79 L274.80,277.66 L275.73,277.53 L276.66,277.41 L277.58,277.29 L278.51,277.17 L279.44,277.05 L280.37,276.93 L281.30,276.82 L282.23,276.71 L283.15,276.60 L284.08,276.49 L285.01,276.38 L285.94,276.28 L286.87,276.18 L287.80,276.07 L288.72,275.98 L289.65,275.88 L290.58,275.78 L291.51,275.69 L292.44,275.60 L293.37,275.51 L294.29,275.42 L295.22,275.33 L296.15,275.24 L297.08,275.16 L298.01,275.08 L298.94,274.99 L299.86,274.91 L300.79,274.83 L301.72,274.76 L302.65,274.68 L303.58,274.61 L304.51,274.53 L305.43,274.46 L306.36,274.39 L307.29,274.32 L308.22,274.25 L309.15,274.18 L310.08,274.12 L311.00,274.05 L311.93,273.99 L312.86,273.93 L313.79,273.86 L314.72,273.80 L315.65,273.74 L316.57,273.69 L317.50,273.63 L318.43,273.57 L319.36,273.52 L320.29,273.46 L321.22,273.41 L322.14,273.35 L323.07,273.30 L324.00,273.25 L324.93,273.20 L325.86,273.15 L326.79,273.10 L327.71,273.06 L328.64,273.01 L329.57,272.96 L330.50,272.92 L331.43,272.87 L332.36,272.83 L333.28,272.79 L334.21,272.75 L335.14,272.71 L336.07,272.66 L337.00,272.62 L337.93,272.59 L338.86,272.55 L339.78,272.51 L340.71,272.47 L341.64,272.44 L342.57,272.40 L343.50,272.36 L344.43,272.33 L345.35,272.30 L346.28,272.26 L347.21,272.23 L348.14,272.20 L349.07,272.17 L350.00,272.13 L350.92,272.10 L351.85,272.07 L352.78,272.30 L353.71,272.52 L354.64,272.74 L355.57,272.94 L356.49,273.14 L357.42,273.33 L358.35,273.52 L359.28,273.70 L360.21,273.87 L361.14,274.04 L362.06,274.21 L362.99,274.36 L363.92,274.51 L364.85,274.66 L365.78,274.80 L366.71,274.94 L367.63,275.07 L368.56,275.20 L369.49,275.32 L370.42,275.44 L371.35,275.56 L372.28,275.67 L373.20,275.78 L374.13,275.88 L375.06,275.99 L375.99,276.08 L376.92,276.18 L377.85,276.27 L378.77,276.36 L379.70,276.44 L380.63,276.52 L381.56,276.60 L382.49,276.68 L383.42,276.76 L384.34,276.83 L385.27,276.90 L386.20,276.96 L387.13,277.03 L388.06,277.09 L388.99,277.15 L389.91,277.21 L390.84,277.27 L391.77,277.32 L392.70,277.38 L393.63,277.43 L394.56,277.48 L395.48,277.52 L396.41,277.57 L397.34,277.61 L398.27,277.66 L399.20,277.70 L400.13,277.74 L401.05,277.78 L401.98,277.82 L402.91,277.85 L403.84,277.89 L404.77,277.92" stroke="#7a448c" stroke-width="1.35" fill="none" stroke-linejoin="round"/>
<path d="M240.45,284.30 L241.38,283.60 L242.31,282.92 L243.24,282.25 L244.16,281.61 L245.09,280.99 L246.02,280.39 L246.95,279.81 L247.88,279.24 L248.81,278.69 L249.73,278.16 L250.66,277.64 L251.59,277.14 L252.52,276.66 L253.45,276.19 L254.38,275.73 L255.30,275.29 L256.23,274.86 L257.16,274.45 L258.09,274.05 L259.02,273.66 L259.95,273.28 L260.87,272.91 L261.80,272.56 L262.73,272.21 L263.66,271.88 L264.59,271.55 L265.52,271.24 L266.44,270.94 L267.37,270.64 L268.30,270.35 L269.23,270.08 L270.16,269.81 L271.09,269.55 L272.01,269.29 L272.94,269.05 L273.87,268.81 L274.80,268.58 L275.73,268.36 L276.66,268.14 L277.58,267.93 L278.51,267.73 L279.44,267.53 L280.37,267.34 L281.30,267.15 L282.23,266.98 L283.15,266.80 L284.08,266.63 L285.01,266.47 L285.94,266.31 L286.87,266.16 L287.80,266.01 L288.72,265.86 L289.65,265.72 L290.58,265.59 L291.51,265.45 L292.44,265.33 L293.37,265.20 L294.29,265.08 L295.22,264.97 L296.15,264.85 L297.08,264.74 L298.01,264.64 L298.94,264.53 L299.86,264.43 L300.79,264.34 L301.72,264.24 L302.65,264.15 L303.58,264.06 L304.51,263.98 L305.43,263.90 L306.36,263.82 L307.29,263.74 L308.22,263.66 L309.15,263.59 L310.08,263.52 L311.00,263.45 L311.93,263.38 L312.86,263.32 L313.79,263.26 L314.72,263.20 L315.65,263.14 L316.57,263.08 L317.50,263.02 L318.43,262.97 L319.36,262.92 L320.29,262.87 L321.22,262.82 L322.14,262.77 L323.07,262.73 L324.00,262.68 L324.93,262.64 L325.86,262.60 L326.79,262.56 L327.71,262.52 L328.64,262.48 L329.57,262.44 L330.50,262.41 L331.43,262.37 L332.36,262.34 L333.28,262.30 L334.21,262.27 L335.14,262.24 L336.07,262.21 L337.00,262.18 L337.93,262.16 L338.86,262.13 L339.78,262.10 L340.71,262.08 L341.64,262.05 L342.57,262.03 L343.50,262.00 L344.43,261.98 L345.35,261.96 L346.28,261.94 L347.21,261.92 L348.14,261.90 L349.07,261.88 L350.00,261.86 L350.92,261.84 L351.85,261.82 L352.78,263.16 L353.71,264.97 L354.64,266.87 L355.57,268.73 L356.49,270.49 L357.42,272.11 L358.35,273.58 L359.28,274.90 L360.21,276.06 L361.14,277.07 L362.06,277.95 L362.99,278.70 L363.92,279.35 L364.85,279.89 L365.78,280.35 L366.71,280.74 L367.63,281.06 L368.56,281.33 L369.49,281.55 L370.42,281.73 L371.35,281.88 L372.28,282.00 L373.20,282.10 L374.13,282.18 L375.06,282.25 L375.99,282.30 L376.92,282.34 L377.85,282.38 L378.77,282.40 L379.70,282.42 L380.63,282.44 L381.56,282.45 L382.49,282.46 L383.42,282.47 L384.34,282.48 L385.27,282.48 L386.20,282.49 L387.13,282.49 L388.06,282.49 L388.99,282.50 L389.91,282.50 L390.84,282.50 L391.77,282.50 L392.70,282.50 L393.63,282.50 L394.56,282.50 L395.48,282.50 L396.41,282.50 L397.34,282.50 L398.27,282.50 L399.20,282.50 L400.13,282.50 L401.05,282.50 L401.98,282.50 L402.91,282.50 L403.84,282.50 L404.77,282.50" stroke="#1e4a7c" stroke-width="1.35" fill="none" stroke-linejoin="round"/>
<path d="M240.45,284.30 L241.38,280.86 L242.31,277.72 L243.24,274.85 L244.16,272.23 L245.09,269.84 L246.02,267.64 L246.95,265.64 L247.88,263.81 L248.81,262.14 L249.73,260.61 L250.66,259.22 L251.59,257.94 L252.52,256.77 L253.45,255.71 L254.38,254.73 L255.30,253.84 L256.23,253.03 L257.16,252.28 L258.09,251.60 L259.02,250.98 L259.95,250.41 L260.87,249.89 L261.80,249.42 L262.73,248.99 L263.66,248.59 L264.59,248.23 L265.52,247.90 L266.44,247.60 L267.37,247.32 L268.30,247.07 L269.23,246.84 L270.16,246.62 L271.09,246.43 L272.01,246.26 L272.94,246.09 L273.87,245.95 L274.80,245.81 L275.73,245.69 L276.66,245.58 L277.58,245.47 L278.51,245.38 L279.44,245.29 L280.37,245.22 L281.30,245.14 L282.23,245.08 L283.15,245.02 L284.08,244.96 L285.01,244.91 L285.94,244.87 L286.87,244.83 L287.80,244.79 L288.72,244.75 L289.65,244.72 L290.58,244.69 L291.51,244.67 L292.44,244.64 L293.37,244.62 L294.29,244.60 L295.22,244.58 L296.15,244.56 L297.08,244.55 L298.01,244.53 L298.94,244.52 L299.86,244.51 L300.79,244.50 L301.72,244.49 L302.65,244.48 L303.58,244.47 L304.51,244.46 L305.43,244.46 L306.36,244.45 L307.29,244.44 L308.22,244.44 L309.15,244.43 L310.08,244.43 L311.00,244.43 L311.93,244.42 L312.86,244.42 L313.79,244.42 L314.72,244.41 L315.65,244.41 L316.57,244.41 L317.50,244.41 L318.43,244.40 L319.36,244.40 L320.29,244.40 L321.22,244.40 L322.14,244.40 L323.07,244.40 L324.00,244.40 L324.93,244.39 L325.86,244.39 L326.79,244.39 L327.71,244.39 L328.64,244.39 L329.57,244.39 L330.50,244.39 L331.43,244.39 L332.36,244.39 L333.28,244.39 L334.21,244.39 L335.14,244.39 L336.07,244.39 L337.00,244.39 L337.93,244.39 L338.86,244.39 L339.78,244.39 L340.71,244.39 L341.64,244.39 L342.57,244.39 L343.50,244.39 L344.43,244.39 L345.35,244.39 L346.28,244.38 L347.21,244.38 L348.14,244.38 L349.07,244.38 L350.00,244.38 L350.92,244.38 L351.85,244.38 L352.78,245.12 L353.71,246.56 L354.64,248.43 L355.57,250.58 L356.49,252.91 L357.42,255.32 L358.35,257.74 L359.28,260.11 L360.21,262.40 L361.14,264.56 L362.06,266.58 L362.99,268.44 L363.92,270.13 L364.85,271.65 L365.78,273.01 L366.71,274.20 L367.63,275.25 L368.56,276.15 L369.49,276.93 L370.42,277.60 L371.35,278.16 L372.28,278.63 L373.20,279.02 L374.13,279.35 L375.06,279.62 L375.99,279.84 L376.92,280.02 L377.85,280.17 L378.77,280.28 L379.70,280.37 L380.63,280.45 L381.56,280.51 L382.49,280.55 L383.42,280.59 L384.34,280.62 L385.27,280.64 L386.20,280.65 L387.13,280.67 L388.06,280.68 L388.99,280.68 L389.91,280.69 L390.84,280.69 L391.77,280.70 L392.70,280.70 L393.63,280.70 L394.56,280.70 L395.48,280.70 L396.41,280.70 L397.34,280.70 L398.27,280.70 L399.20,280.70 L400.13,280.70 L401.05,280.70 L401.98,280.70 L402.91,280.70 L403.84,280.70 L404.77,280.70" stroke="#d08a2a" stroke-width="1.35" fill="none" stroke-linejoin="round"/>
<path d="M240.45,284.30 L241.38,282.65 L242.31,279.84 L243.24,276.49 L244.16,272.82 L245.09,268.97 L246.02,265.04 L246.95,261.09 L247.88,257.16 L248.81,253.30 L249.73,249.53 L250.66,245.86 L251.59,242.31 L252.52,238.89 L253.45,235.61 L254.38,232.47 L255.30,229.49 L256.23,226.69 L257.16,224.08 L258.09,221.72 L259.02,219.62 L259.95,217.82 L260.87,216.33 L261.80,215.14 L262.73,214.22 L263.66,213.52 L264.59,213.00 L265.52,212.61 L266.44,212.32 L267.37,212.11 L268.30,211.95 L269.23,211.82 L270.16,211.73 L271.09,211.66 L272.01,211.60 L272.94,211.56 L273.87,211.52 L274.80,211.49 L275.73,211.47 L276.66,211.45 L277.58,211.43 L278.51,211.42 L279.44,211.41 L280.37,211.40 L281.30,211.39 L282.23,211.38 L283.15,211.38 L284.08,211.37 L285.01,211.37 L285.94,211.36 L286.87,211.36 L287.80,211.36 L288.72,211.35 L289.65,211.35 L290.58,211.35 L291.51,211.35 L292.44,211.35 L293.37,211.34 L294.29,211.34 L295.22,211.34 L296.15,211.34 L297.08,211.34 L298.01,211.34 L298.94,211.34 L299.86,211.34 L300.79,211.34 L301.72,211.33 L302.65,211.33 L303.58,211.33 L304.51,211.33 L305.43,211.33 L306.36,211.33 L307.29,211.33 L308.22,211.33 L309.15,211.33 L310.08,211.33 L311.00,211.33 L311.93,211.33 L312.86,211.33 L313.79,211.33 L314.72,211.33 L315.65,211.33 L316.57,211.33 L317.50,211.33 L318.43,211.33 L319.36,211.33 L320.29,211.33 L321.22,211.33 L322.14,211.33 L323.07,211.33 L324.00,211.33 L324.93,211.33 L325.86,211.33 L326.79,211.33 L327.71,211.33 L328.64,211.33 L329.57,211.33 L330.50,211.33 L331.43,211.33 L332.36,211.33 L333.28,211.33 L334.21,211.33 L335.14,211.33 L336.07,211.33 L337.00,211.33 L337.93,211.33 L338.86,211.33 L339.78,211.33 L340.71,211.33 L341.64,211.33 L342.57,211.33 L343.50,211.33 L344.43,211.33 L345.35,211.33 L346.28,211.33 L347.21,211.33 L348.14,211.33 L349.07,211.33 L350.00,211.33 L350.92,211.33 L351.85,211.33 L352.78,216.76 L353.71,221.18 L354.64,224.82 L355.57,227.83 L356.49,230.35 L357.42,232.48 L358.35,234.29 L359.28,235.87 L360.21,237.24 L361.14,238.46 L362.06,239.56 L362.99,240.55 L363.92,241.47 L364.85,242.32 L365.78,243.11 L366.71,243.86 L367.63,244.58 L368.56,245.26 L369.49,245.92 L370.42,246.56 L371.35,247.17 L372.28,247.77 L373.20,248.35 L374.13,248.92 L375.06,249.48 L375.99,250.03 L376.92,250.56 L377.85,251.09 L378.77,251.60 L379.70,252.11 L380.63,252.61 L381.56,253.10 L382.49,253.58 L383.42,254.06 L384.34,254.52 L385.27,254.98 L386.20,255.43 L387.13,255.88 L388.06,256.32 L388.99,256.75 L389.91,257.17 L390.84,257.59 L391.77,258.00 L392.70,258.40 L393.63,258.80 L394.56,259.19 L395.48,259.58 L396.41,259.96 L397.34,260.33 L398.27,260.70 L399.20,261.07 L400.13,261.42 L401.05,261.78 L401.98,262.12 L402.91,262.46 L403.84,262.80 L404.77,263.13" stroke="#8a8ac0" stroke-width="1.15" fill="none" stroke-linejoin="round"/>
<path d="M240.45,284.30 L241.38,280.21 L242.31,276.57 L243.24,273.31 L244.16,270.39 L245.09,267.75 L246.02,265.37 L246.95,263.20 L247.88,261.23 L248.81,259.42 L249.73,257.76 L250.66,256.22 L251.59,254.80 L252.52,253.48 L253.45,252.25 L254.38,251.09 L255.30,250.00 L256.23,248.98 L257.16,248.01 L258.09,247.08 L259.02,246.21 L259.95,245.37 L260.87,244.57 L261.80,243.80 L262.73,243.06 L263.66,242.35 L264.59,241.66 L265.52,241.00 L266.44,240.36 L267.37,239.74 L268.30,239.14 L269.23,238.55 L270.16,237.99 L271.09,237.43 L272.01,236.90 L272.94,236.38 L273.87,235.87 L274.80,235.38 L275.73,234.90 L276.66,234.43 L277.58,233.97 L278.51,233.52 L279.44,233.09 L280.37,232.66 L281.30,232.25 L282.23,231.84 L283.15,231.44 L284.08,231.06 L285.01,230.68 L285.94,230.31 L286.87,229.95 L287.80,229.60 L288.72,229.25 L289.65,228.92 L290.58,228.59 L291.51,228.27 L292.44,227.95 L293.37,227.65 L294.29,227.35 L295.22,227.05 L296.15,226.77 L297.08,226.49 L298.01,226.21 L298.94,225.94 L299.86,225.68 L300.79,225.43 L301.72,225.17 L302.65,224.93 L303.58,224.69 L304.51,224.46 L305.43,224.23 L306.36,224.00 L307.29,223.79 L308.22,223.57 L309.15,223.36 L310.08,223.16 L311.00,222.96 L311.93,222.76 L312.86,222.57 L313.79,222.39 L314.72,222.20 L315.65,222.02 L316.57,221.85 L317.50,221.68 L318.43,221.51 L319.36,221.35 L320.29,221.19 L321.22,221.03 L322.14,220.88 L323.07,220.73 L324.00,220.59 L324.93,220.44 L325.86,220.30 L326.79,220.17 L327.71,220.03 L328.64,219.90 L329.57,219.78 L330.50,219.65 L331.43,219.53 L332.36,219.41 L333.28,219.29 L334.21,219.18 L335.14,219.07 L336.07,218.96 L337.00,218.85 L337.93,218.75 L338.86,218.65 L339.78,218.55 L340.71,218.45 L341.64,218.36 L342.57,218.26 L343.50,218.17 L344.43,218.08 L345.35,218.00 L346.28,217.91 L347.21,217.83 L348.14,217.75 L349.07,217.67 L350.00,217.59 L350.92,217.51 L351.85,217.44 L352.78,218.37 L353.71,219.27 L354.64,220.12 L355.57,220.95 L356.49,221.74 L357.42,222.49 L358.35,223.23 L359.28,223.93 L360.21,224.61 L361.14,225.27 L362.06,225.91 L362.99,226.52 L363.92,227.12 L364.85,227.70 L365.78,228.26 L366.71,228.81 L367.63,229.34 L368.56,229.86 L369.49,230.37 L370.42,230.86 L371.35,231.35 L372.28,231.82 L373.20,232.28 L374.13,232.73 L375.06,233.17 L375.99,233.61 L376.92,234.03 L377.85,234.45 L378.77,234.86 L379.70,235.27 L380.63,235.66 L381.56,236.06 L382.49,236.44 L383.42,236.82 L384.34,237.19 L385.27,237.56 L386.20,237.93 L387.13,238.29 L388.06,238.64 L388.99,238.99 L389.91,239.34 L390.84,239.68 L391.77,240.01 L392.70,240.35 L393.63,240.68 L394.56,241.00 L395.48,241.33 L396.41,241.65 L397.34,241.96 L398.27,242.28 L399.20,242.59 L400.13,242.89 L401.05,243.20 L401.98,243.50 L402.91,243.80 L403.84,244.09 L404.77,244.39" stroke="#bcc49a" stroke-width="1.15" fill="none" stroke-linejoin="round"/>
<path d="M240.45,284.30 L241.38,282.65 L242.31,279.88 L243.24,276.57 L244.16,272.98 L245.09,269.24 L246.02,265.43 L246.95,261.64 L247.88,257.89 L248.81,254.22 L249.73,250.66 L250.66,247.22 L251.59,243.91 L252.52,240.73 L253.45,237.70 L254.38,234.80 L255.30,232.05 L256.23,229.43 L257.16,226.96 L258.09,224.61 L259.02,222.39 L259.95,220.30 L260.87,218.32 L261.80,216.46 L262.73,214.71 L263.66,213.06 L264.59,211.51 L265.52,210.05 L266.44,208.68 L267.37,207.40 L268.30,206.19 L269.23,205.06 L270.16,204.00 L271.09,203.00 L272.01,202.07 L272.94,201.20 L273.87,200.38 L274.80,199.61 L275.73,198.90 L276.66,198.22 L277.58,197.60 L278.51,197.01 L279.44,196.46 L280.37,195.95 L281.30,195.47 L282.23,195.02 L283.15,194.60 L284.08,194.20 L285.01,193.84 L285.94,193.49 L286.87,193.17 L287.80,192.87 L288.72,192.60 L289.65,192.33 L290.58,192.09 L291.51,191.86 L292.44,191.65 L293.37,191.45 L294.29,191.26 L295.22,191.09 L296.15,190.93 L297.08,190.78 L298.01,190.63 L298.94,190.50 L299.86,190.38 L300.79,190.26 L301.72,190.16 L302.65,190.06 L303.58,189.96 L304.51,189.88 L305.43,189.79 L306.36,189.72 L307.29,189.65 L308.22,189.58 L309.15,189.52 L310.08,189.46 L311.00,189.41 L311.93,189.35 L312.86,189.31 L313.79,189.26 L314.72,189.22 L315.65,189.18 L316.57,189.15 L317.50,189.11 L318.43,189.08 L319.36,189.05 L320.29,189.03 L321.22,189.00 L322.14,188.98 L323.07,188.96 L324.00,188.94 L324.93,188.92 L325.86,188.90 L326.79,188.88 L327.71,188.87 L328.64,188.85 L329.57,188.84 L330.50,188.82 L331.43,188.81 L332.36,188.80 L333.28,188.79 L334.21,188.78 L335.14,188.77 L336.07,188.76 L337.00,188.76 L337.93,188.75 L338.86,188.74 L339.78,188.74 L340.71,188.73 L341.64,188.72 L342.57,188.72 L343.50,188.71 L344.43,188.71 L345.35,188.71 L346.28,188.70 L347.21,188.70 L348.14,188.69 L349.07,188.69 L350.00,188.69 L350.92,188.69 L351.85,188.68 L352.78,189.60 L353.71,190.51 L354.64,191.41 L355.57,192.29 L356.49,193.16 L357.42,194.02 L358.35,194.87 L359.28,195.71 L360.21,196.54 L361.14,197.35 L362.06,198.16 L362.99,198.95 L363.92,199.73 L364.85,200.50 L365.78,201.27 L366.71,202.02 L367.63,202.76 L368.56,203.49 L369.49,204.21 L370.42,204.93 L371.35,205.63 L372.28,206.32 L373.20,207.01 L374.13,207.68 L375.06,208.35 L375.99,209.00 L376.92,209.65 L377.85,210.29 L378.77,210.92 L379.70,211.54 L380.63,212.16 L381.56,212.76 L382.49,213.36 L383.42,213.95 L384.34,214.53 L385.27,215.11 L386.20,215.67 L387.13,216.23 L388.06,216.78 L388.99,217.33 L389.91,217.86 L390.84,218.39 L391.77,218.91 L392.70,219.43 L393.63,219.94 L394.56,220.44 L395.48,220.93 L396.41,221.42 L397.34,221.90 L398.27,222.38 L399.20,222.85 L400.13,223.31 L401.05,223.77 L401.98,224.22 L402.91,224.66 L403.84,225.10 L404.77,225.53" stroke="#4a2414" stroke-width="1.35" fill="none" stroke-linejoin="round"/>
<path d="M240.45,284.30 L241.38,282.65 L242.31,279.87 L243.24,276.56 L244.16,272.96 L245.09,269.20 L246.02,265.38 L246.95,261.56 L247.88,257.79 L248.81,254.10 L249.73,250.51 L250.66,247.04 L251.59,243.69 L252.52,240.48 L253.45,237.41 L254.38,234.49 L255.30,231.70 L256.23,229.05 L257.16,226.53 L258.09,224.15 L259.02,221.90 L259.95,219.77 L260.87,217.76 L261.80,215.86 L262.73,214.08 L263.66,212.39 L264.59,210.81 L265.52,209.32 L266.44,207.92 L267.37,206.61 L268.30,205.37 L269.23,204.21 L270.16,203.12 L271.09,202.10 L272.01,201.14 L272.94,200.25 L273.87,199.41 L274.80,198.62 L275.73,197.88 L276.66,197.19 L277.58,196.54 L278.51,195.93 L279.44,195.37 L280.37,194.84 L281.30,194.34 L282.23,193.87 L283.15,193.44 L284.08,193.03 L285.01,192.65 L285.94,192.30 L286.87,191.96 L287.80,191.65 L288.72,191.36 L289.65,191.09 L290.58,190.83 L291.51,190.60 L292.44,190.37 L293.37,190.17 L294.29,189.97 L295.22,189.79 L296.15,189.62 L297.08,189.46 L298.01,189.31 L298.94,189.17 L299.86,189.05 L300.79,188.92 L301.72,188.81 L302.65,188.71 L303.58,188.61 L304.51,188.52 L305.43,188.43 L306.36,188.35 L307.29,188.27 L308.22,188.20 L309.15,188.14 L310.08,188.08 L311.00,188.02 L311.93,187.97 L312.86,187.92 L313.79,187.87 L314.72,187.83 L315.65,187.78 L316.57,187.75 L317.50,187.71 L318.43,187.68 L319.36,187.65 L320.29,187.62 L321.22,187.59 L322.14,187.57 L323.07,187.54 L324.00,187.52 L324.93,187.50 L325.86,187.48 L326.79,187.46 L327.71,187.45 L328.64,187.43 L329.57,187.42 L330.50,187.40 L331.43,187.39 L332.36,187.38 L333.28,187.37 L334.21,187.36 L335.14,187.35 L336.07,187.34 L337.00,187.33 L337.93,187.32 L338.86,187.31 L339.78,187.31 L340.71,187.30 L341.64,187.29 L342.57,187.29 L343.50,187.28 L344.43,187.28 L345.35,187.27 L346.28,187.27 L347.21,187.26 L348.14,187.26 L349.07,187.26 L350.00,187.25 L350.92,187.25 L351.85,187.25 L352.78,187.96 L353.71,188.66 L354.64,189.35 L355.57,190.03 L356.49,190.71 L357.42,191.38 L358.35,192.04 L359.28,192.70 L360.21,193.35 L361.14,193.99 L362.06,194.62 L362.99,195.25 L363.92,195.87 L364.85,196.48 L365.78,197.09 L366.71,197.69 L367.63,198.28 L368.56,198.87 L369.49,199.45 L370.42,200.02 L371.35,200.59 L372.28,201.15 L373.20,201.71 L374.13,202.26 L375.06,202.80 L375.99,203.34 L376.92,203.87 L377.85,204.40 L378.77,204.92 L379.70,205.43 L380.63,205.94 L381.56,206.44 L382.49,206.94 L383.42,207.43 L384.34,207.92 L385.27,208.40 L386.20,208.88 L387.13,209.35 L388.06,209.81 L388.99,210.27 L389.91,210.73 L390.84,211.18 L391.77,211.63 L392.70,212.07 L393.63,212.50 L394.56,212.94 L395.48,213.36 L396.41,213.78 L397.34,214.20 L398.27,214.61 L399.20,215.02 L400.13,215.43 L401.05,215.83 L401.98,216.22 L402.91,216.61 L403.84,217.00 L404.77,217.38" stroke="#44b24a" stroke-width="1.35" fill="none" stroke-linejoin="round"/>
<path d="M240.45,284.30 L241.38,282.65 L242.31,279.86 L243.24,276.54 L244.16,272.91 L245.09,269.13 L246.02,265.28 L246.95,261.42 L247.88,257.60 L248.81,253.86 L249.73,250.21 L250.66,246.68 L251.59,243.27 L252.52,240.00 L253.45,236.86 L254.38,233.87 L255.30,231.01 L256.23,228.29 L257.16,225.70 L258.09,223.25 L259.02,220.93 L259.95,218.73 L260.87,216.65 L261.80,214.69 L262.73,212.83 L263.66,211.09 L264.59,209.44 L265.52,207.89 L266.44,206.42 L267.37,205.05 L268.30,203.76 L269.23,202.54 L270.16,201.40 L271.09,200.33 L272.01,199.32 L272.94,198.37 L273.87,197.49 L274.80,196.65 L275.73,195.87 L276.66,195.14 L277.58,194.45 L278.51,193.81 L279.44,193.20 L280.37,192.64 L281.30,192.11 L282.23,191.61 L283.15,191.14 L284.08,190.71 L285.01,190.30 L285.94,189.91 L286.87,189.56 L287.80,189.22 L288.72,188.91 L289.65,188.61 L290.58,188.34 L291.51,188.08 L292.44,187.84 L293.37,187.61 L294.29,187.40 L295.22,187.20 L296.15,187.02 L297.08,186.84 L298.01,186.68 L298.94,186.53 L299.86,186.39 L300.79,186.26 L301.72,186.13 L302.65,186.02 L303.58,185.91 L304.51,185.80 L305.43,185.71 L306.36,185.62 L307.29,185.54 L308.22,185.46 L309.15,185.39 L310.08,185.32 L311.00,185.25 L311.93,185.19 L312.86,185.14 L313.79,185.09 L314.72,185.04 L315.65,184.99 L316.57,184.95 L317.50,184.91 L318.43,184.87 L319.36,184.84 L320.29,184.80 L321.22,184.77 L322.14,184.74 L323.07,184.72 L324.00,184.69 L324.93,184.67 L325.86,184.65 L326.79,184.63 L327.71,184.61 L328.64,184.59 L329.57,184.57 L330.50,184.56 L331.43,184.54 L332.36,184.53 L333.28,184.52 L334.21,184.50 L335.14,184.49 L336.07,184.48 L337.00,184.47 L337.93,184.46 L338.86,184.46 L339.78,184.45 L340.71,184.44 L341.64,184.43 L342.57,184.43 L343.50,184.42 L344.43,184.41 L345.35,184.41 L346.28,184.40 L347.21,184.40 L348.14,184.39 L349.07,184.39 L350.00,184.39 L350.92,184.38 L351.85,184.38 L352.78,185.12 L353.71,185.85 L354.64,186.57 L355.57,187.29 L356.49,188.00 L357.42,188.69 L358.35,189.39 L359.28,190.07 L360.21,190.75 L361.14,191.42 L362.06,192.08 L362.99,192.73 L363.92,193.38 L364.85,194.02 L365.78,194.66 L366.71,195.28 L367.63,195.90 L368.56,196.51 L369.49,197.12 L370.42,197.72 L371.35,198.31 L372.28,198.90 L373.20,199.48 L374.13,200.05 L375.06,200.62 L375.99,201.18 L376.92,201.74 L377.85,202.29 L378.77,202.83 L379.70,203.37 L380.63,203.90 L381.56,204.43 L382.49,204.94 L383.42,205.46 L384.34,205.97 L385.27,206.47 L386.20,206.97 L387.13,207.46 L388.06,207.95 L388.99,208.43 L389.91,208.90 L390.84,209.37 L391.77,209.84 L392.70,210.30 L393.63,210.76 L394.56,211.21 L395.48,211.65 L396.41,212.09 L397.34,212.53 L398.27,212.96 L399.20,213.39 L400.13,213.81 L401.05,214.22 L401.98,214.64 L402.91,215.05 L403.84,215.45 L404.77,215.85" stroke="#b42a30" stroke-width="1.35" fill="none" stroke-linejoin="round"/>
<path d="M240.45,284.30 L241.38,282.65 L242.31,279.85 L243.24,276.50 L244.16,272.83 L245.09,269.00 L246.02,265.08 L246.95,261.14 L247.88,257.24 L248.81,253.40 L249.73,249.65 L250.66,246.00 L251.59,242.48 L252.52,239.08 L253.45,235.82 L254.38,232.69 L255.30,229.69 L256.23,226.84 L257.16,224.12 L258.09,221.53 L259.02,219.07 L259.95,216.73 L260.87,214.52 L261.80,212.42 L262.73,210.44 L263.66,208.56 L264.59,206.79 L265.52,205.11 L266.44,203.53 L267.37,202.04 L268.30,200.63 L269.23,199.30 L270.16,198.05 L271.09,196.87 L272.01,195.77 L272.94,194.72 L273.87,193.74 L274.80,192.82 L275.73,191.95 L276.66,191.13 L277.58,190.36 L278.51,189.64 L279.44,188.96 L280.37,188.32 L281.30,187.72 L282.23,187.16 L283.15,186.63 L284.08,186.13 L285.01,185.67 L285.94,185.23 L286.87,184.82 L287.80,184.43 L288.72,184.07 L289.65,183.73 L290.58,183.41 L291.51,183.11 L292.44,182.83 L293.37,182.56 L294.29,182.32 L295.22,182.08 L296.15,181.87 L297.08,181.66 L298.01,181.47 L298.94,181.29 L299.86,181.12 L300.79,180.96 L301.72,180.81 L302.65,180.68 L303.58,180.54 L304.51,180.42 L305.43,180.31 L306.36,180.20 L307.29,180.10 L308.22,180.00 L309.15,179.91 L310.08,179.83 L311.00,179.75 L311.93,179.68 L312.86,179.61 L313.79,179.55 L314.72,179.49 L315.65,179.43 L316.57,179.38 L317.50,179.33 L318.43,179.28 L319.36,179.24 L320.29,179.19 L321.22,179.16 L322.14,179.12 L323.07,179.09 L324.00,179.05 L324.93,179.02 L325.86,179.00 L326.79,178.97 L327.71,178.95 L328.64,178.92 L329.57,178.90 L330.50,178.88 L331.43,178.86 L332.36,178.84 L333.28,178.83 L334.21,178.81 L335.14,178.80 L336.07,178.78 L337.00,178.77 L337.93,178.76 L338.86,178.75 L339.78,178.74 L340.71,178.73 L341.64,178.72 L342.57,178.71 L343.50,178.70 L344.43,178.69 L345.35,178.69 L346.28,178.68 L347.21,178.67 L348.14,178.67 L349.07,178.66 L350.00,178.66 L350.92,178.65 L351.85,178.65 L352.78,179.35 L353.71,180.04 L354.64,180.71 L355.57,181.37 L356.49,182.02 L357.42,182.66 L358.35,183.29 L359.28,183.91 L360.21,184.51 L361.14,185.10 L362.06,185.69 L362.99,186.26 L363.92,186.82 L364.85,187.37 L365.78,187.91 L366.71,188.44 L367.63,188.96 L368.56,189.47 L369.49,189.98 L370.42,190.47 L371.35,190.95 L372.28,191.43 L373.20,191.89 L374.13,192.35 L375.06,192.80 L375.99,193.24 L376.92,193.68 L377.85,194.10 L378.77,194.52 L379.70,194.93 L380.63,195.33 L381.56,195.73 L382.49,196.11 L383.42,196.49 L384.34,196.87 L385.27,197.23 L386.20,197.59 L387.13,197.95 L388.06,198.30 L388.99,198.64 L389.91,198.97 L390.84,199.30 L391.77,199.62 L392.70,199.94 L393.63,200.25 L394.56,200.55 L395.48,200.85 L396.41,201.14 L397.34,201.43 L398.27,201.72 L399.20,201.99 L400.13,202.27 L401.05,202.53 L401.98,202.80 L402.91,203.06 L403.84,203.31 L404.77,203.56" stroke="#40a8d8" stroke-width="1.35" fill="none" stroke-linejoin="round"/>
<path d="M240.45,284.30 L241.38,282.65 L242.31,279.84 L243.24,276.49 L244.16,272.82 L245.09,268.97 L246.02,265.04 L246.95,261.09 L247.88,257.16 L248.81,253.30 L249.73,249.53 L250.66,245.86 L251.59,242.31 L252.52,238.89 L253.45,235.60 L254.38,232.44 L255.30,229.42 L256.23,226.53 L257.16,223.78 L258.09,221.16 L259.02,218.67 L259.95,216.31 L260.87,214.07 L261.80,211.94 L262.73,209.93 L263.66,208.02 L264.59,206.22 L265.52,204.52 L266.44,202.91 L267.37,201.39 L268.30,199.96 L269.23,198.61 L270.16,197.34 L271.09,196.14 L272.01,195.00 L272.94,193.94 L273.87,192.94 L274.80,191.99 L275.73,191.10 L276.66,190.27 L277.58,189.48 L278.51,188.74 L279.44,188.05 L280.37,187.39 L281.30,186.78 L282.23,186.20 L283.15,185.66 L284.08,185.15 L285.01,184.67 L285.94,184.22 L286.87,183.79 L287.80,183.40 L288.72,183.02 L289.65,182.67 L290.58,182.34 L291.51,182.03 L292.44,181.74 L293.37,181.47 L294.29,181.22 L295.22,180.97 L296.15,180.75 L297.08,180.54 L298.01,180.34 L298.94,180.15 L299.86,179.98 L300.79,179.81 L301.72,179.66 L302.65,179.52 L303.58,179.38 L304.51,179.25 L305.43,179.13 L306.36,179.02 L307.29,178.92 L308.22,178.82 L309.15,178.72 L310.08,178.64 L311.00,178.56 L311.93,178.48 L312.86,178.41 L313.79,178.34 L314.72,178.28 L315.65,178.22 L316.57,178.16 L317.50,178.11 L318.43,178.06 L319.36,178.01 L320.29,177.97 L321.22,177.93 L322.14,177.89 L323.07,177.86 L324.00,177.82 L324.93,177.79 L325.86,177.76 L326.79,177.74 L327.71,177.71 L328.64,177.69 L329.57,177.66 L330.50,177.64 L331.43,177.62 L332.36,177.60 L333.28,177.59 L334.21,177.57 L335.14,177.55 L336.07,177.54 L337.00,177.53 L337.93,177.51 L338.86,177.50 L339.78,177.49 L340.71,177.48 L341.64,177.47 L342.57,177.46 L343.50,177.45 L344.43,177.44 L345.35,177.44 L346.28,177.43 L347.21,177.42 L348.14,177.41 L349.07,177.41 L350.00,177.40 L350.92,177.40 L351.85,177.39 L352.78,178.38 L353.71,179.34 L354.64,180.30 L355.57,181.23 L356.49,182.16 L357.42,183.06 L358.35,183.96 L359.28,184.84 L360.21,185.70 L361.14,186.55 L362.06,187.39 L362.99,188.22 L363.92,189.03 L364.85,189.83 L365.78,190.61 L366.71,191.39 L367.63,192.15 L368.56,192.90 L369.49,193.63 L370.42,194.36 L371.35,195.07 L372.28,195.78 L373.20,196.47 L374.13,197.15 L375.06,197.82 L375.99,198.48 L376.92,199.13 L377.85,199.77 L378.77,200.39 L379.70,201.01 L380.63,201.62 L381.56,202.22 L382.49,202.81 L383.42,203.39 L384.34,203.96 L385.27,204.52 L386.20,205.07 L387.13,205.62 L388.06,206.15 L388.99,206.68 L389.91,207.20 L390.84,207.71 L391.77,208.21 L392.70,208.71 L393.63,209.19 L394.56,209.67 L395.48,210.14 L396.41,210.61 L397.34,211.06 L398.27,211.51 L399.20,211.95 L400.13,212.39 L401.05,212.82 L401.98,213.24 L402.91,213.65 L403.84,214.06 L404.77,214.46" stroke="#eea044" stroke-width="1.35" fill="none" stroke-linejoin="round"/>
<line x1="351.85" y1="170.1" x2="351.85" y2="284.3" stroke="#3a3a3a" stroke-width="1.3" stroke-dasharray="1.3,1.45"/>
<line x1="240.45" y1="171" x2="240.45" y2="284.90000000000003" stroke="#1a1a1a" stroke-width="1.2"/>
<line x1="239.85" y1="284.3" x2="410.45" y2="284.3" stroke="#1a1a1a" stroke-width="1.2"/>
<line x1="237.25" y1="284.30" x2="240.45" y2="284.30" stroke="#1a1a1a" stroke-width="1.1"/>
<text x="234.0" y="286.70" font-size="6.7" fill="#282828" text-anchor="end" font-weight="normal" stroke="#282828" stroke-width="0.18">0</text>
<line x1="237.25" y1="248.34" x2="240.45" y2="248.34" stroke="#1a1a1a" stroke-width="1.1"/>
<text x="234.0" y="250.74" font-size="6.7" fill="#282828" text-anchor="end" font-weight="normal" stroke="#282828" stroke-width="0.18">2</text>
<line x1="237.25" y1="212.38" x2="240.45" y2="212.38" stroke="#1a1a1a" stroke-width="1.1"/>
<text x="234.0" y="214.78" font-size="6.7" fill="#282828" text-anchor="end" font-weight="normal" stroke="#282828" stroke-width="0.18">4</text>
<line x1="237.25" y1="176.42" x2="240.45" y2="176.42" stroke="#1a1a1a" stroke-width="1.1"/>
<text x="234.0" y="178.82" font-size="6.7" fill="#282828" text-anchor="end" font-weight="normal" stroke="#282828" stroke-width="0.18">6</text>
<line x1="240.45" y1="284.3" x2="240.45" y2="287.5" stroke="#1a1a1a" stroke-width="1.1"/>
<text x="240.45" y="296.6" font-size="6.7" fill="#282828" text-anchor="middle" font-weight="normal" stroke="#282828" stroke-width="0.18">0</text>
<line x1="296.15" y1="284.3" x2="296.15" y2="287.5" stroke="#1a1a1a" stroke-width="1.1"/>
<text x="296.15" y="296.6" font-size="6.7" fill="#282828" text-anchor="middle" font-weight="normal" stroke="#282828" stroke-width="0.18">300</text>
<line x1="351.85" y1="284.3" x2="351.85" y2="287.5" stroke="#1a1a1a" stroke-width="1.1"/>
<text x="351.85" y="296.6" font-size="6.7" fill="#282828" text-anchor="middle" font-weight="normal" stroke="#282828" stroke-width="0.18">600</text>
<line x1="407.55" y1="284.3" x2="407.55" y2="287.5" stroke="#1a1a1a" stroke-width="1.1"/>
<text x="407.55" y="296.6" font-size="6.7" fill="#282828" text-anchor="middle" font-weight="normal" stroke="#282828" stroke-width="0.18">900</text>
<text x="326.0" y="308.8" font-size="8.4" fill="#282828" text-anchor="middle" font-weight="normal" textLength="24.4" lengthAdjust="spacingAndGlyphs" stroke="#282828" stroke-width="0.12">Time (s)</text>
<text transform="translate(223.6,224.5) rotate(-90)" font-size="7.0" fill="#282828" stroke="#282828" stroke-width="0.15" text-anchor="middle" textLength="62.5" lengthAdjust="spacingAndGlyphs">Binding shift (nm)</text>
<line x1="432.4" y1="172.8" x2="446.2" y2="172.8" stroke="#40a8d8" stroke-width="1.3"/>
<text x="449.1" y="175.2" font-size="6.7" fill="#282828" text-anchor="start" font-weight="normal" stroke="#282828" stroke-width="0.18">CR22066</text>
<line x1="432.4" y1="184.4" x2="446.2" y2="184.4" stroke="#e6a455" stroke-width="1.3"/>
<text x="449.1" y="186.8" font-size="6.7" fill="#282828" text-anchor="start" font-weight="normal" stroke="#282828" stroke-width="0.18">CR22046</text>
<line x1="432.4" y1="194.8" x2="446.2" y2="194.8" stroke="#a8242c" stroke-width="1.5"/>
<text x="449.1" y="197.2" font-size="6.7" fill="#282828" text-anchor="start" font-weight="normal" stroke="#282828" stroke-width="0.18">CR22050</text>
<line x1="432.4" y1="205.0" x2="446.2" y2="205.0" stroke="#44b24a" stroke-width="1.6"/>
<text x="449.1" y="207.4" font-size="6.7" fill="#282828" text-anchor="start" font-weight="normal" stroke="#282828" stroke-width="0.18">CR22045</text>
<line x1="432.4" y1="214.6" x2="446.2" y2="214.6" stroke="#2e221c" stroke-width="1.3"/>
<text x="449.1" y="217.0" font-size="6.7" fill="#282828" text-anchor="start" font-weight="normal" stroke="#282828" stroke-width="0.18">CR22051</text>
<line x1="432.4" y1="236.8" x2="446.2" y2="236.8" stroke="#c4c8a0" stroke-width="1.7"/>
<text x="449.1" y="239.2" font-size="6.7" fill="#282828" text-anchor="start" font-weight="normal" stroke="#282828" stroke-width="0.18">KKO</text>
<line x1="432.4" y1="246.1" x2="446.2" y2="246.1" stroke="#8c8cae" stroke-width="1.1"/>
<text x="449.1" y="248.5" font-size="6.7" fill="#282828" text-anchor="start" font-weight="normal" stroke="#282828" stroke-width="0.18">CR22091</text>
<line x1="432.4" y1="265.6" x2="446.2" y2="265.6" stroke="#b4822c" stroke-width="1.4"/>
<text x="449.1" y="268.0" font-size="6.7" fill="#282828" text-anchor="start" font-weight="normal" stroke="#282828" stroke-width="0.18">CR22044</text>
<line x1="432.4" y1="295.2" x2="446.2" y2="295.2" stroke="#1c3452" stroke-width="1.4"/>
<text x="449.1" y="297.6" font-size="6.7" fill="#282828" text-anchor="start" font-weight="normal" stroke="#282828" stroke-width="0.18">CR22042</text>
<line x1="432.4" y1="304.6" x2="446.2" y2="304.6" stroke="#7e4c8c" stroke-width="1.7"/>
<text x="449.1" y="307.0" font-size="6.7" fill="#282828" text-anchor="start" font-weight="normal" stroke="#282828" stroke-width="0.18">CR22047</text>
<line x1="53.5" y1="362.7" x2="53.5" y2="490.8" stroke="#1a1a1a" stroke-width="1.3"/>
<line x1="52.9" y1="490.2" x2="208" y2="490.2" stroke="#1a1a1a" stroke-width="1.3"/>
<line x1="50.0" y1="381.9" x2="53.5" y2="381.9" stroke="#1a1a1a" stroke-width="1.1"/>
<text x="46.8" y="383.9" font-size="6.6" fill="#282828" text-anchor="end" font-weight="normal" stroke="#282828" stroke-width="0.18">&gt; 45 min</text>
<line x1="50.0" y1="407.7" x2="53.5" y2="407.7" stroke="#1a1a1a" stroke-width="1.1"/>
<text x="46.8" y="409.7" font-size="6.6" fill="#282828" text-anchor="end" font-weight="normal" stroke="#282828" stroke-width="0.18">45 min</text>
<line x1="50.0" y1="416.9" x2="53.5" y2="416.9" stroke="#1a1a1a" stroke-width="1.1"/>
<text x="46.8" y="418.9" font-size="6.6" fill="#282828" text-anchor="end" font-weight="normal" stroke="#282828" stroke-width="0.18">40 min</text>
<line x1="50.0" y1="426.0" x2="53.5" y2="426.0" stroke="#1a1a1a" stroke-width="1.1"/>
<text x="46.8" y="428.0" font-size="6.6" fill="#282828" text-anchor="end" font-weight="normal" stroke="#282828" stroke-width="0.18">35 min</text>
<line x1="50.0" y1="435.2" x2="53.5" y2="435.2" stroke="#1a1a1a" stroke-width="1.1"/>
<text x="46.8" y="437.2" font-size="6.6" fill="#282828" text-anchor="end" font-weight="normal" stroke="#282828" stroke-width="0.18">30 min</text>
<line x1="50.0" y1="444.3" x2="53.5" y2="444.3" stroke="#1a1a1a" stroke-width="1.1"/>
<text x="46.8" y="446.3" font-size="6.6" fill="#282828" text-anchor="end" font-weight="normal" stroke="#282828" stroke-width="0.18">25 min</text>
<line x1="50.0" y1="453.5" x2="53.5" y2="453.5" stroke="#1a1a1a" stroke-width="1.1"/>
<text x="46.8" y="455.5" font-size="6.6" fill="#282828" text-anchor="end" font-weight="normal" stroke="#282828" stroke-width="0.18">20 min</text>
<line x1="50.0" y1="462.7" x2="53.5" y2="462.7" stroke="#1a1a1a" stroke-width="1.1"/>
<text x="46.8" y="464.7" font-size="6.6" fill="#282828" text-anchor="end" font-weight="normal" stroke="#282828" stroke-width="0.18">15 min</text>
<line x1="50.0" y1="471.8" x2="53.5" y2="471.8" stroke="#1a1a1a" stroke-width="1.1"/>
<text x="46.8" y="473.8" font-size="6.6" fill="#282828" text-anchor="end" font-weight="normal" stroke="#282828" stroke-width="0.18">10 min</text>
<line x1="50.0" y1="481.0" x2="53.5" y2="481.0" stroke="#1a1a1a" stroke-width="1.1"/>
<text x="46.8" y="483.0" font-size="6.6" fill="#282828" text-anchor="end" font-weight="normal" stroke="#282828" stroke-width="0.18">5 min</text>
<rect x="55.0" y="381.8" width="3.10" height="108.40" fill="#a6b986"/>
<rect x="60.2" y="381.8" width="3.70" height="108.40" fill="#f1b519"/>
<rect x="69.2" y="381.8" width="3.20" height="108.40" fill="#a6b986"/>
<rect x="74.6" y="381.8" width="3.60" height="108.40" fill="#f1b519"/>
<rect x="83.5" y="472.0" width="3.30" height="18.20" fill="#a6b986"/>
<rect x="89.0" y="441.0" width="3.40" height="49.20" fill="#f1b519"/>
<rect x="97.8" y="476.5" width="3.30" height="13.70" fill="#a6b986"/>
<rect x="103.3" y="467.3" width="3.50" height="22.90" fill="#f1b519"/>
<rect x="112.3" y="381.8" width="3.30" height="108.40" fill="#a6b986"/>
<rect x="117.8" y="381.8" width="3.40" height="108.40" fill="#f1b519"/>
<rect x="126.8" y="472.0" width="3.30" height="18.20" fill="#a6b986"/>
<rect x="132.3" y="467.3" width="3.50" height="22.90" fill="#f1b519"/>
<rect x="141.0" y="468.8" width="3.30" height="21.40" fill="#a6b986"/>
<rect x="146.3" y="453.5" width="3.50" height="36.70" fill="#f1b519"/>
<rect x="155.3" y="481.0" width="3.30" height="9.20" fill="#a6b986"/>
<rect x="160.6" y="473.5" width="3.50" height="16.70" fill="#f1b519"/>
<rect x="169.6" y="481.0" width="3.20" height="9.20" fill="#a6b986"/>
<rect x="175.0" y="386.0" width="3.50" height="104.20" fill="#f1b519"/>
<rect x="183.9" y="481.0" width="3.20" height="9.20" fill="#a6b986"/>
<rect x="189.4" y="449.5" width="3.60" height="40.70" fill="#f1b519"/>
<rect x="198.1" y="381.8" width="3.30" height="108.40" fill="#a6b986"/>
<rect x="203.3" y="381.8" width="3.60" height="108.40" fill="#f1b519"/>
<line x1="85.15" y1="472.0" x2="85.15" y2="464.5" stroke="#6a6a6a" stroke-width="0.85"/>
<line x1="84.05" y1="464.8" x2="86.25" y2="464.8" stroke="#505050" stroke-width="1.0"/>
<line x1="90.70" y1="441.0" x2="90.70" y2="418.0" stroke="#6a6a6a" stroke-width="0.85"/>
<line x1="89.60" y1="418.3" x2="91.80" y2="418.3" stroke="#505050" stroke-width="1.0"/>
<line x1="99.45" y1="476.5" x2="99.45" y2="467.3" stroke="#6a6a6a" stroke-width="0.85"/>
<line x1="98.35" y1="467.6" x2="100.55" y2="467.6" stroke="#505050" stroke-width="1.0"/>
<line x1="105.05" y1="467.3" x2="105.05" y2="456.0" stroke="#6a6a6a" stroke-width="0.85"/>
<line x1="103.95" y1="456.3" x2="106.15" y2="456.3" stroke="#505050" stroke-width="1.0"/>
<line x1="128.45" y1="472.0" x2="128.45" y2="464.5" stroke="#6a6a6a" stroke-width="0.85"/>
<line x1="127.35" y1="464.8" x2="129.55" y2="464.8" stroke="#505050" stroke-width="1.0"/>
<line x1="134.05" y1="467.3" x2="134.05" y2="456.0" stroke="#6a6a6a" stroke-width="0.85"/>
<line x1="132.95" y1="456.3" x2="135.15" y2="456.3" stroke="#505050" stroke-width="1.0"/>
<line x1="142.65" y1="468.8" x2="142.65" y2="458.2" stroke="#6a6a6a" stroke-width="0.85"/>
<line x1="141.55" y1="458.5" x2="143.75" y2="458.5" stroke="#505050" stroke-width="1.0"/>
<line x1="148.05" y1="453.5" x2="148.05" y2="443.4" stroke="#6a6a6a" stroke-width="0.85"/>
<line x1="146.95" y1="443.7" x2="149.15" y2="443.7" stroke="#505050" stroke-width="1.0"/>
<line x1="162.35" y1="473.5" x2="162.35" y2="469.5" stroke="#6a6a6a" stroke-width="0.85"/>
<line x1="161.25" y1="469.8" x2="163.45" y2="469.8" stroke="#505050" stroke-width="1.0"/>
<line x1="176.75" y1="386.0" x2="176.75" y2="377.0" stroke="#6a6a6a" stroke-width="0.85"/>
<line x1="175.65" y1="377.3" x2="177.85" y2="377.3" stroke="#505050" stroke-width="1.0"/>
<line x1="191.20" y1="449.5" x2="191.20" y2="437.8" stroke="#6a6a6a" stroke-width="0.85"/>
<line x1="190.10" y1="438.1" x2="192.30" y2="438.1" stroke="#505050" stroke-width="1.0"/>
<line x1="59.30" y1="490.2" x2="59.30" y2="493.5" stroke="#1a1a1a" stroke-width="1.1"/>
<line x1="73.60" y1="490.2" x2="73.60" y2="493.5" stroke="#1a1a1a" stroke-width="1.1"/>
<line x1="87.90" y1="490.2" x2="87.90" y2="493.5" stroke="#1a1a1a" stroke-width="1.1"/>
<line x1="102.20" y1="490.2" x2="102.20" y2="493.5" stroke="#1a1a1a" stroke-width="1.1"/>
<line x1="116.50" y1="490.2" x2="116.50" y2="493.5" stroke="#1a1a1a" stroke-width="1.1"/>
<line x1="130.80" y1="490.2" x2="130.80" y2="493.5" stroke="#1a1a1a" stroke-width="1.1"/>
<line x1="145.10" y1="490.2" x2="145.10" y2="493.5" stroke="#1a1a1a" stroke-width="1.1"/>
<line x1="159.40" y1="490.2" x2="159.40" y2="493.5" stroke="#1a1a1a" stroke-width="1.1"/>
<line x1="173.70" y1="490.2" x2="173.70" y2="493.5" stroke="#1a1a1a" stroke-width="1.1"/>
<line x1="188.00" y1="490.2" x2="188.00" y2="493.5" stroke="#1a1a1a" stroke-width="1.1"/>
<line x1="202.30" y1="490.2" x2="202.30" y2="493.5" stroke="#1a1a1a" stroke-width="1.1"/>
<text transform="translate(62.10,500.4) rotate(-45)" font-size="6.8" fill="#282828" stroke="#282828" stroke-width="0.18" text-anchor="end" textLength="27.29" lengthAdjust="spacingAndGlyphs">CR22042</text>
<text transform="translate(76.40,500.4) rotate(-45)" font-size="6.8" fill="#282828" stroke="#282828" stroke-width="0.18" text-anchor="end" textLength="27.29" lengthAdjust="spacingAndGlyphs">CR22044</text>
<text transform="translate(90.70,500.4) rotate(-45)" font-size="6.8" fill="#282828" stroke="#282828" stroke-width="0.18" text-anchor="end" textLength="27.29" lengthAdjust="spacingAndGlyphs">CR22045</text>
<text transform="translate(105.00,500.4) rotate(-45)" font-size="6.8" fill="#282828" stroke="#282828" stroke-width="0.18" text-anchor="end" textLength="27.29" lengthAdjust="spacingAndGlyphs">CR22046</text>
<text transform="translate(119.30,500.4) rotate(-45)" font-size="6.8" fill="#282828" stroke="#282828" stroke-width="0.18" text-anchor="end" textLength="27.29" lengthAdjust="spacingAndGlyphs">CR22047</text>
<text transform="translate(133.60,500.4) rotate(-45)" font-size="6.8" fill="#282828" stroke="#282828" stroke-width="0.18" text-anchor="end" textLength="27.29" lengthAdjust="spacingAndGlyphs">CR22050</text>
<text transform="translate(147.90,500.4) rotate(-45)" font-size="6.8" fill="#282828" stroke="#282828" stroke-width="0.18" text-anchor="end" textLength="27.29" lengthAdjust="spacingAndGlyphs">CR22051</text>
<text transform="translate(162.20,500.4) rotate(-45)" font-size="6.8" fill="#282828" stroke="#282828" stroke-width="0.18" text-anchor="end" textLength="27.29" lengthAdjust="spacingAndGlyphs">CR22066</text>
<text transform="translate(176.50,500.4) rotate(-45)" font-size="6.8" fill="#282828" stroke="#282828" stroke-width="0.18" text-anchor="end" textLength="13.64" lengthAdjust="spacingAndGlyphs">KKO</text>
<text transform="translate(190.80,500.4) rotate(-45)" font-size="6.8" fill="#282828" stroke="#282828" stroke-width="0.18" text-anchor="end" textLength="26.57" lengthAdjust="spacingAndGlyphs">pos contr</text>
<text transform="translate(205.10,500.4) rotate(-45)" font-size="6.8" fill="#282828" stroke="#282828" stroke-width="0.18" text-anchor="end" textLength="26.93" lengthAdjust="spacingAndGlyphs">neg contr</text>
<line x1="58" y1="354.5" x2="72" y2="354.5" stroke="#a6b986" stroke-width="2.8"/>
<line x1="58" y1="362" x2="72" y2="362" stroke="#f1b519" stroke-width="2.8"/>
<text x="74.8" y="356.7" font-size="6.8" fill="#282828" text-anchor="start" font-weight="normal" textLength="37.4" lengthAdjust="spacingAndGlyphs" stroke="#282828" stroke-width="0.18">PF4 + buffer</text>
<text x="74.8" y="363.9" font-size="6.8" fill="#282828" text-anchor="start" font-weight="normal" textLength="32.7" lengthAdjust="spacingAndGlyphs" stroke="#282828" stroke-width="0.18">buffer only</text>
<text transform="translate(14.6,417.3) rotate(-90)" font-size="8.6" fill="#282828" stroke="#282828" stroke-width="0.15" text-anchor="middle" textLength="64.2" lengthAdjust="spacingAndGlyphs">Time to platelet activation</text>
<line x1="251.7" y1="362.7" x2="251.7" y2="490.8" stroke="#1a1a1a" stroke-width="1.3"/>
<line x1="251.1" y1="490.2" x2="343.8" y2="490.2" stroke="#1a1a1a" stroke-width="1.3"/>
<line x1="248.2" y1="381.9" x2="251.7" y2="381.9" stroke="#1a1a1a" stroke-width="1.1"/>
<text x="245.0" y="383.9" font-size="6.6" fill="#282828" text-anchor="end" font-weight="normal" stroke="#282828" stroke-width="0.18">&gt; 45 min</text>
<line x1="248.2" y1="407.7" x2="251.7" y2="407.7" stroke="#1a1a1a" stroke-width="1.1"/>
<text x="245.0" y="409.7" font-size="6.6" fill="#282828" text-anchor="end" font-weight="normal" stroke="#282828" stroke-width="0.18">45 min</text>
<line x1="248.2" y1="416.9" x2="251.7" y2="416.9" stroke="#1a1a1a" stroke-width="1.1"/>
<text x="245.0" y="418.9" font-size="6.6" fill="#282828" text-anchor="end" font-weight="normal" stroke="#282828" stroke-width="0.18">40 min</text>
<line x1="248.2" y1="426.0" x2="251.7" y2="426.0" stroke="#1a1a1a" stroke-width="1.1"/>
<text x="245.0" y="428.0" font-size="6.6" fill="#282828" text-anchor="end" font-weight="normal" stroke="#282828" stroke-width="0.18">35 min</text>
<line x1="248.2" y1="435.2" x2="251.7" y2="435.2" stroke="#1a1a1a" stroke-width="1.1"/>
<text x="245.0" y="437.2" font-size="6.6" fill="#282828" text-anchor="end" font-weight="normal" stroke="#282828" stroke-width="0.18">30 min</text>
<line x1="248.2" y1="444.3" x2="251.7" y2="444.3" stroke="#1a1a1a" stroke-width="1.1"/>
<text x="245.0" y="446.3" font-size="6.6" fill="#282828" text-anchor="end" font-weight="normal" stroke="#282828" stroke-width="0.18">25 min</text>
<line x1="248.2" y1="453.5" x2="251.7" y2="453.5" stroke="#1a1a1a" stroke-width="1.1"/>
<text x="245.0" y="455.5" font-size="6.6" fill="#282828" text-anchor="end" font-weight="normal" stroke="#282828" stroke-width="0.18">20 min</text>
<line x1="248.2" y1="462.7" x2="251.7" y2="462.7" stroke="#1a1a1a" stroke-width="1.1"/>
<text x="245.0" y="464.7" font-size="6.6" fill="#282828" text-anchor="end" font-weight="normal" stroke="#282828" stroke-width="0.18">15 min</text>
<line x1="248.2" y1="471.8" x2="251.7" y2="471.8" stroke="#1a1a1a" stroke-width="1.1"/>
<text x="245.0" y="473.8" font-size="6.6" fill="#282828" text-anchor="end" font-weight="normal" stroke="#282828" stroke-width="0.18">10 min</text>
<line x1="248.2" y1="481.0" x2="251.7" y2="481.0" stroke="#1a1a1a" stroke-width="1.1"/>
<text x="245.0" y="483.0" font-size="6.6" fill="#282828" text-anchor="end" font-weight="normal" stroke="#282828" stroke-width="0.18">5 min</text>
<rect x="254.4" y="479.8" width="3.50" height="10.40" fill="#a6b986"/>
<rect x="260.0" y="381.8" width="3.70" height="108.40" fill="#f1b519"/>
<rect x="270.0" y="481.2" width="3.50" height="9.00" fill="#a6b986"/>
<rect x="275.7" y="381.8" width="3.50" height="108.40" fill="#f1b519"/>
<rect x="285.8" y="465.8" width="3.40" height="24.40" fill="#a6b986"/>
<rect x="291.2" y="391.0" width="3.50" height="99.20" fill="#f1b519"/>
<rect x="301.2" y="456.5" width="3.40" height="33.70" fill="#a6b986"/>
<rect x="306.9" y="381.8" width="3.50" height="108.40" fill="#f1b519"/>
<rect x="317.0" y="481.2" width="3.40" height="9.00" fill="#a6b986"/>
<rect x="322.4" y="381.8" width="3.50" height="108.40" fill="#f1b519"/>
<rect x="332.6" y="481.2" width="3.30" height="9.00" fill="#a6b986"/>
<rect x="338.1" y="381.8" width="3.50" height="108.40" fill="#f1b519"/>
<line x1="256.15" y1="479.8" x2="256.15" y2="474.4" stroke="#6a6a6a" stroke-width="0.85"/>
<line x1="255.05" y1="474.7" x2="257.25" y2="474.7" stroke="#505050" stroke-width="1.0"/>
<line x1="287.50" y1="465.8" x2="287.50" y2="451.2" stroke="#6a6a6a" stroke-width="0.85"/>
<line x1="286.40" y1="451.5" x2="288.60" y2="451.5" stroke="#505050" stroke-width="1.0"/>
<line x1="292.95" y1="391.0" x2="292.95" y2="372.8" stroke="#6a6a6a" stroke-width="0.85"/>
<line x1="291.85" y1="373.1" x2="294.05" y2="373.1" stroke="#505050" stroke-width="1.0"/>
<line x1="302.90" y1="456.5" x2="302.90" y2="430.0" stroke="#6a6a6a" stroke-width="0.85"/>
<line x1="301.80" y1="430.3" x2="304.00" y2="430.3" stroke="#505050" stroke-width="1.0"/>
<line x1="258.70" y1="490.2" x2="258.70" y2="493.5" stroke="#1a1a1a" stroke-width="1.1"/>
<line x1="274.30" y1="490.2" x2="274.30" y2="493.5" stroke="#1a1a1a" stroke-width="1.1"/>
<line x1="289.90" y1="490.2" x2="289.90" y2="493.5" stroke="#1a1a1a" stroke-width="1.1"/>
<line x1="305.50" y1="490.2" x2="305.50" y2="493.5" stroke="#1a1a1a" stroke-width="1.1"/>
<line x1="321.10" y1="490.2" x2="321.10" y2="493.5" stroke="#1a1a1a" stroke-width="1.1"/>
<line x1="336.70" y1="490.2" x2="336.70" y2="493.5" stroke="#1a1a1a" stroke-width="1.1"/>
<text transform="translate(261.50,500.4) rotate(-45)" font-size="6.8" fill="#282828" stroke="#282828" stroke-width="0.18" text-anchor="end" textLength="27.29" lengthAdjust="spacingAndGlyphs">CR22045</text>
<text transform="translate(277.10,500.4) rotate(-45)" font-size="6.8" fill="#282828" stroke="#282828" stroke-width="0.18" text-anchor="end" textLength="27.29" lengthAdjust="spacingAndGlyphs">CR22046</text>
<text transform="translate(292.70,500.4) rotate(-45)" font-size="6.8" fill="#282828" stroke="#282828" stroke-width="0.18" text-anchor="end" textLength="27.29" lengthAdjust="spacingAndGlyphs">CR22050</text>
<text transform="translate(308.30,500.4) rotate(-45)" font-size="6.8" fill="#282828" stroke="#282828" stroke-width="0.18" text-anchor="end" textLength="27.29" lengthAdjust="spacingAndGlyphs">CR22051</text>
<text transform="translate(323.90,500.4) rotate(-45)" font-size="6.8" fill="#282828" stroke="#282828" stroke-width="0.18" text-anchor="end" textLength="27.29" lengthAdjust="spacingAndGlyphs">CR22066</text>
<text transform="translate(339.50,500.4) rotate(-45)" font-size="6.8" fill="#282828" stroke="#282828" stroke-width="0.18" text-anchor="end" textLength="13.64" lengthAdjust="spacingAndGlyphs">KKO</text>
<line x1="255.8" y1="356.3" x2="269" y2="356.3" stroke="#a6b986" stroke-width="2.8"/>
<line x1="255.8" y1="363.5" x2="269" y2="363.5" stroke="#f1b519" stroke-width="2.8"/>
<text x="272.9" y="358.2" font-size="6.8" fill="#282828" text-anchor="start" font-weight="normal" textLength="37.1" lengthAdjust="spacingAndGlyphs" stroke="#282828" stroke-width="0.18">PF4 + buffer</text>
<text x="272.9" y="365.5" font-size="6.8" fill="#282828" text-anchor="start" font-weight="normal" textLength="80.4" lengthAdjust="spacingAndGlyphs" stroke="#282828" stroke-width="0.18">PF4 + buffer + anti-Fc&#947;RIIa</text>
<line x1="397.4" y1="363.5" x2="397.4" y2="490.8" stroke="#1a1a1a" stroke-width="1.3"/>
<line x1="396.79999999999995" y1="490.2" x2="513" y2="490.2" stroke="#1a1a1a" stroke-width="1.3"/>
<line x1="393.9" y1="381.9" x2="397.4" y2="381.9" stroke="#1a1a1a" stroke-width="1.1"/>
<text x="390.7" y="383.9" font-size="6.6" fill="#282828" text-anchor="end" font-weight="normal" stroke="#282828" stroke-width="0.18">&gt; 45 min</text>
<line x1="393.9" y1="407.7" x2="397.4" y2="407.7" stroke="#1a1a1a" stroke-width="1.1"/>
<text x="390.7" y="409.7" font-size="6.6" fill="#282828" text-anchor="end" font-weight="normal" stroke="#282828" stroke-width="0.18">45 min</text>
<line x1="393.9" y1="416.9" x2="397.4" y2="416.9" stroke="#1a1a1a" stroke-width="1.1"/>
<text x="390.7" y="418.9" font-size="6.6" fill="#282828" text-anchor="end" font-weight="normal" stroke="#282828" stroke-width="0.18">40 min</text>
<line x1="393.9" y1="426.0" x2="397.4" y2="426.0" stroke="#1a1a1a" stroke-width="1.1"/>
<text x="390.7" y="428.0" font-size="6.6" fill="#282828" text-anchor="end" font-weight="normal" stroke="#282828" stroke-width="0.18">35 min</text>
<line x1="393.9" y1="435.2" x2="397.4" y2="435.2" stroke="#1a1a1a" stroke-width="1.1"/>
<text x="390.7" y="437.2" font-size="6.6" fill="#282828" text-anchor="end" font-weight="normal" stroke="#282828" stroke-width="0.18">30 min</text>
<line x1="393.9" y1="444.3" x2="397.4" y2="444.3" stroke="#1a1a1a" stroke-width="1.1"/>
<text x="390.7" y="446.3" font-size="6.6" fill="#282828" text-anchor="end" font-weight="normal" stroke="#282828" stroke-width="0.18">25 min</text>
<line x1="393.9" y1="453.5" x2="397.4" y2="453.5" stroke="#1a1a1a" stroke-width="1.1"/>
<text x="390.7" y="455.5" font-size="6.6" fill="#282828" text-anchor="end" font-weight="normal" stroke="#282828" stroke-width="0.18">20 min</text>
<line x1="393.9" y1="462.7" x2="397.4" y2="462.7" stroke="#1a1a1a" stroke-width="1.1"/>
<text x="390.7" y="464.7" font-size="6.6" fill="#282828" text-anchor="end" font-weight="normal" stroke="#282828" stroke-width="0.18">15 min</text>
<line x1="393.9" y1="471.8" x2="397.4" y2="471.8" stroke="#1a1a1a" stroke-width="1.1"/>
<text x="390.7" y="473.8" font-size="6.6" fill="#282828" text-anchor="end" font-weight="normal" stroke="#282828" stroke-width="0.18">10 min</text>
<line x1="393.9" y1="481.0" x2="397.4" y2="481.0" stroke="#1a1a1a" stroke-width="1.1"/>
<text x="390.7" y="483.0" font-size="6.6" fill="#282828" text-anchor="end" font-weight="normal" stroke="#282828" stroke-width="0.18">5 min</text>
<rect x="399.2" y="430.0" width="3.50" height="60.20" fill="#a6b986"/>
<rect x="403.9" y="381.8" width="3.20" height="108.40" fill="#c6c1cc"/>
<rect x="408.7" y="381.8" width="3.30" height="108.40" fill="#f1b519"/>
<rect x="418.9" y="434.0" width="3.30" height="56.20" fill="#a6b986"/>
<rect x="423.59999999999997" y="381.8" width="3.20" height="108.40" fill="#c6c1cc"/>
<rect x="428.4" y="381.8" width="3.30" height="108.40" fill="#f1b519"/>
<rect x="438.6" y="448.1" width="3.30" height="42.10" fill="#a6b986"/>
<rect x="443.3" y="381.8" width="3.20" height="108.40" fill="#c6c1cc"/>
<rect x="448.1" y="381.8" width="3.30" height="108.40" fill="#f1b519"/>
<rect x="458.0" y="443.0" width="3.30" height="47.20" fill="#a6b986"/>
<rect x="462.7" y="381.8" width="3.20" height="108.40" fill="#c6c1cc"/>
<rect x="467.5" y="381.8" width="3.30" height="108.40" fill="#f1b519"/>
<rect x="477.3" y="447.6" width="3.30" height="42.60" fill="#a6b986"/>
<rect x="482.0" y="381.8" width="3.20" height="108.40" fill="#c6c1cc"/>
<rect x="486.8" y="381.8" width="3.30" height="108.40" fill="#f1b519"/>
<rect x="497.0" y="465.3" width="3.40" height="24.90" fill="#a6b986"/>
<rect x="501.7" y="381.8" width="3.20" height="108.40" fill="#c6c1cc"/>
<rect x="506.5" y="381.8" width="3.30" height="108.40" fill="#f1b519"/>
<line x1="400.95" y1="430.0" x2="400.95" y2="420.4" stroke="#6a6a6a" stroke-width="0.85"/>
<line x1="399.85" y1="420.7" x2="402.05" y2="420.7" stroke="#505050" stroke-width="1.0"/>
<line x1="420.55" y1="434.0" x2="420.55" y2="422.3" stroke="#6a6a6a" stroke-width="0.85"/>
<line x1="419.45" y1="422.6" x2="421.65" y2="422.6" stroke="#505050" stroke-width="1.0"/>
<line x1="440.25" y1="448.1" x2="440.25" y2="438.5" stroke="#6a6a6a" stroke-width="0.85"/>
<line x1="439.15" y1="438.8" x2="441.35" y2="438.8" stroke="#505050" stroke-width="1.0"/>
<line x1="459.65" y1="443.0" x2="459.65" y2="424.2" stroke="#6a6a6a" stroke-width="0.85"/>
<line x1="458.55" y1="424.5" x2="460.75" y2="424.5" stroke="#505050" stroke-width="1.0"/>
<line x1="478.95" y1="447.6" x2="478.95" y2="438.7" stroke="#6a6a6a" stroke-width="0.85"/>
<line x1="477.85" y1="439.0" x2="480.05" y2="439.0" stroke="#505050" stroke-width="1.0"/>
<line x1="498.70" y1="465.3" x2="498.70" y2="460.6" stroke="#6a6a6a" stroke-width="0.85"/>
<line x1="497.60" y1="460.90000000000003" x2="499.80" y2="460.90000000000003" stroke="#505050" stroke-width="1.0"/>
<line x1="405.40" y1="490.2" x2="405.40" y2="493.5" stroke="#1a1a1a" stroke-width="1.1"/>
<line x1="424.90" y1="490.2" x2="424.90" y2="493.5" stroke="#1a1a1a" stroke-width="1.1"/>
<line x1="444.40" y1="490.2" x2="444.40" y2="493.5" stroke="#1a1a1a" stroke-width="1.1"/>
<line x1="463.90" y1="490.2" x2="463.90" y2="493.5" stroke="#1a1a1a" stroke-width="1.1"/>
<line x1="483.40" y1="490.2" x2="483.40" y2="493.5" stroke="#1a1a1a" stroke-width="1.1"/>
<line x1="502.90" y1="490.2" x2="502.90" y2="493.5" stroke="#1a1a1a" stroke-width="1.1"/>
<text transform="translate(408.20,500.4) rotate(-45)" font-size="6.8" fill="#282828" stroke="#282828" stroke-width="0.18" text-anchor="end" textLength="27.29" lengthAdjust="spacingAndGlyphs">CR22045</text>
<text transform="translate(427.70,500.4) rotate(-45)" font-size="6.8" fill="#282828" stroke="#282828" stroke-width="0.18" text-anchor="end" textLength="27.29" lengthAdjust="spacingAndGlyphs">CR22046</text>
<text transform="translate(447.20,500.4) rotate(-45)" font-size="6.8" fill="#282828" stroke="#282828" stroke-width="0.18" text-anchor="end" textLength="27.29" lengthAdjust="spacingAndGlyphs">CR22050</text>
<text transform="translate(466.70,500.4) rotate(-45)" font-size="6.8" fill="#282828" stroke="#282828" stroke-width="0.18" text-anchor="end" textLength="27.29" lengthAdjust="spacingAndGlyphs">CR22051</text>
<text transform="translate(486.20,500.4) rotate(-45)" font-size="6.8" fill="#282828" stroke="#282828" stroke-width="0.18" text-anchor="end" textLength="27.29" lengthAdjust="spacingAndGlyphs">CR22066</text>
<text transform="translate(505.70,500.4) rotate(-45)" font-size="6.8" fill="#282828" stroke="#282828" stroke-width="0.18" text-anchor="end" textLength="13.64" lengthAdjust="spacingAndGlyphs">KKO</text>
<line x1="402.3" y1="348" x2="415.2" y2="348" stroke="#a6b986" stroke-width="2.8"/>
<line x1="402.3" y1="355.4" x2="415.2" y2="355.4" stroke="#c6c1cc" stroke-width="2.8"/>
<line x1="402.3" y1="363" x2="415.2" y2="363" stroke="#f1b519" stroke-width="2.8"/>
<text x="419" y="350.1" font-size="6.8" fill="#282828" text-anchor="start" font-weight="normal" textLength="43.6" lengthAdjust="spacingAndGlyphs" stroke="#282828" stroke-width="0.18">HIPAA heparin</text>
<text x="419" y="357.3" font-size="6.8" fill="#282828" text-anchor="start" font-weight="normal" textLength="66.0" lengthAdjust="spacingAndGlyphs" stroke="#282828" stroke-width="0.18">HIPAA heparin excess</text>
<text x="419" y="364.8" font-size="6.8" fill="#282828" text-anchor="start" font-weight="normal" textLength="61.7" lengthAdjust="spacingAndGlyphs" stroke="#282828" stroke-width="0.18">HIPAA + anti-Fc&#947;RIIa</text>
<rect x="0.5" y="0.5" width="519" height="530" fill="none" stroke="#4a4a4a" stroke-width="1"/></svg></body></html>
